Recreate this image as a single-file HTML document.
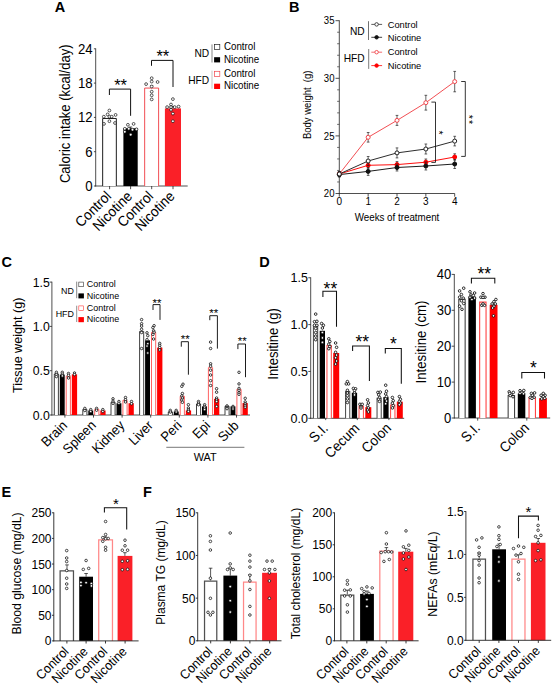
<!DOCTYPE html>
<html><head><meta charset="utf-8"><title>Figure</title>
<style>html,body{margin:0;padding:0;background:#fff}svg{display:block}text{font-family:"Liberation Sans",sans-serif}</style>
</head><body>
<svg width="554" height="685" viewBox="0 0 554 685">
<rect width="554" height="685" fill="#fff"/>
<text transform="translate(54.7 12)" font-size="14.5" font-weight="bold">A</text>
<text transform="translate(289 12)" font-size="14.5" font-weight="bold">B</text>
<text transform="translate(1.6 266.9)" font-size="14.5" font-weight="bold">C</text>
<text transform="translate(259.2 266.9)" font-size="14.5" font-weight="bold">D</text>
<text transform="translate(1.6 496.8)" font-size="14.5" font-weight="bold">E</text>
<text transform="translate(143 496.8)" font-size="14.5" font-weight="bold">F</text>
<g id="pA">
<line x1="95.7" y1="48.4" x2="95.7" y2="186.4" stroke="#222" stroke-width="0.8"/>
<line x1="93.9" y1="186" x2="95.7" y2="186" stroke="#222" stroke-width="0.8"/>
<text transform="translate(92.7 191.01) scale(1 1.06)" font-size="13.2" text-anchor="end">0</text>
<line x1="93.9" y1="151.7" x2="95.7" y2="151.7" stroke="#222" stroke-width="0.8"/>
<text transform="translate(92.7 156.71) scale(1 1.06)" font-size="13.2" text-anchor="end">6</text>
<line x1="93.9" y1="117.4" x2="95.7" y2="117.4" stroke="#222" stroke-width="0.8"/>
<text transform="translate(92.7 122.41) scale(1 1.06)" font-size="13.2" text-anchor="end">12</text>
<line x1="93.9" y1="83.1" x2="95.7" y2="83.1" stroke="#222" stroke-width="0.8"/>
<text transform="translate(92.7 88.11) scale(1 1.06)" font-size="13.2" text-anchor="end">18</text>
<line x1="93.9" y1="48.8" x2="95.7" y2="48.8" stroke="#222" stroke-width="0.8"/>
<text transform="translate(92.7 53.81) scale(1 1.06)" font-size="13.2" text-anchor="end">24</text>
<line x1="95.3" y1="186" x2="187.7" y2="186" stroke="#222" stroke-width="0.8"/>
<line x1="109.6" y1="186" x2="109.6" y2="189.2" stroke="#222" stroke-width="0.8"/>
<line x1="130.6" y1="186" x2="130.6" y2="189.2" stroke="#222" stroke-width="0.8"/>
<line x1="151.7" y1="186" x2="151.7" y2="189.2" stroke="#222" stroke-width="0.8"/>
<line x1="173" y1="186" x2="173" y2="189.2" stroke="#222" stroke-width="0.8"/>
<text transform="translate(70.3 113.8) rotate(-90) scale(1 1.06)" font-size="13" text-anchor="middle">Caloric intake (kcal/day)</text>
<path d="M102.67 186V118.47H116.33V186" fill="#fff" stroke="#111" stroke-width="0.95"/>
<rect x="123.4" y="128.3" width="14.3" height="57.7" fill="#000"/>
<path d="M144.67 186V88.07H158.62V186" fill="#fff" stroke="#f0444a" stroke-width="0.95"/>
<rect x="164.9" y="108.4" width="16.1" height="77.6" fill="#fa2028"/>
<line x1="109.5" y1="118" x2="109.5" y2="116.4" stroke="#111" stroke-width="0.7"/>
<line x1="108" y1="116.4" x2="111" y2="116.4" stroke="#111" stroke-width="0.7"/>
<line x1="130.6" y1="128.3" x2="130.6" y2="127" stroke="#111" stroke-width="0.7"/>
<line x1="129.1" y1="127" x2="132.1" y2="127" stroke="#111" stroke-width="0.7"/>
<line x1="151.7" y1="87.6" x2="151.7" y2="85.6" stroke="#111" stroke-width="0.7"/>
<line x1="150.2" y1="85.6" x2="153.2" y2="85.6" stroke="#111" stroke-width="0.7"/>
<line x1="173" y1="108.4" x2="173" y2="106.4" stroke="#111" stroke-width="0.7"/>
<line x1="171.5" y1="106.4" x2="174.5" y2="106.4" stroke="#111" stroke-width="0.7"/>
<circle cx="109.4" cy="110.5" r="1.4" fill="#fff" stroke="#000" stroke-width="0.65"/>
<circle cx="107.6" cy="114.4" r="1.4" fill="#fff" stroke="#000" stroke-width="0.65"/>
<circle cx="115.6" cy="114.9" r="1.4" fill="#fff" stroke="#000" stroke-width="0.65"/>
<circle cx="103.8" cy="116.7" r="1.4" fill="#fff" stroke="#000" stroke-width="0.65"/>
<circle cx="109.4" cy="116.7" r="1.4" fill="#fff" stroke="#000" stroke-width="0.65"/>
<circle cx="111.7" cy="116.7" r="1.4" fill="#fff" stroke="#000" stroke-width="0.65"/>
<circle cx="109.4" cy="121.2" r="1.4" fill="#fff" stroke="#000" stroke-width="0.65"/>
<circle cx="104" cy="123.9" r="1.4" fill="#fff" stroke="#000" stroke-width="0.65"/>
<circle cx="115" cy="123" r="1.4" fill="#fff" stroke="#000" stroke-width="0.65"/>
<circle cx="127.9" cy="124.8" r="1.4" fill="#fff" stroke="#000" stroke-width="0.65"/>
<circle cx="133.6" cy="123.9" r="1.4" fill="#fff" stroke="#000" stroke-width="0.65"/>
<circle cx="124.8" cy="128.8" r="1.4" fill="#fff" stroke="#000" stroke-width="0.65"/>
<circle cx="128.8" cy="128.8" r="1.4" fill="#fff" stroke="#000" stroke-width="0.65"/>
<circle cx="132.5" cy="129.7" r="1.4" fill="#fff" stroke="#000" stroke-width="0.65"/>
<circle cx="136.5" cy="129.3" r="1.4" fill="#fff" stroke="#000" stroke-width="0.65"/>
<circle cx="124.8" cy="131.8" r="1.4" fill="#fff" stroke="#000" stroke-width="0.65"/>
<circle cx="130.7" cy="134.7" r="1.4" fill="#fff" stroke="#000" stroke-width="0.65"/>
<circle cx="146.1" cy="84.1" r="1.4" fill="#fff" stroke="#000" stroke-width="0.65"/>
<circle cx="151.7" cy="81.6" r="1.4" fill="#fff" stroke="#000" stroke-width="0.65"/>
<circle cx="157.6" cy="82" r="1.4" fill="#fff" stroke="#000" stroke-width="0.65"/>
<circle cx="151.7" cy="86.5" r="1.4" fill="#fff" stroke="#000" stroke-width="0.65"/>
<circle cx="151.7" cy="91.7" r="1.4" fill="#fff" stroke="#000" stroke-width="0.65"/>
<circle cx="151.7" cy="95.3" r="1.4" fill="#fff" stroke="#000" stroke-width="0.65"/>
<circle cx="151.7" cy="99.4" r="1.4" fill="#fff" stroke="#000" stroke-width="0.65"/>
<circle cx="151.7" cy="78.2" r="1.4" fill="#fff" stroke="#000" stroke-width="0.65"/>
<circle cx="172.9" cy="99.1" r="1.4" fill="#fff" stroke="#000" stroke-width="0.65"/>
<circle cx="171" cy="104.5" r="1.4" fill="#fff" stroke="#000" stroke-width="0.65"/>
<circle cx="167.1" cy="107.1" r="1.4" fill="#fff" stroke="#000" stroke-width="0.65"/>
<circle cx="171" cy="107.1" r="1.4" fill="#fff" stroke="#000" stroke-width="0.65"/>
<circle cx="174.7" cy="107.1" r="1.4" fill="#fff" stroke="#000" stroke-width="0.65"/>
<circle cx="178.6" cy="106.6" r="1.4" fill="#fff" stroke="#000" stroke-width="0.65"/>
<circle cx="171" cy="109.8" r="1.4" fill="#fff" stroke="#000" stroke-width="0.65"/>
<circle cx="172.9" cy="113.6" r="1.4" fill="#fff" stroke="#000" stroke-width="0.65"/>
<circle cx="172.9" cy="121.2" r="1.4" fill="#fff" stroke="#000" stroke-width="0.65"/>
<path d="M109.4 95V89.1H130.6V115.8" stroke="#111" stroke-width="1.0" fill="none"/>
<text transform="translate(120.6 91.17)" font-size="16.5" text-anchor="middle">**</text>
<path d="M151.5 65.8V60.4H173V87" stroke="#111" stroke-width="1.0" fill="none"/>
<text transform="translate(162.8 61.87)" font-size="16.5" text-anchor="middle">**</text>
<text transform="translate(112.1 197.1) rotate(-45) scale(1 1.06)" font-size="13.6" text-anchor="end">Control</text>
<text transform="translate(133.1 197.1) rotate(-45) scale(1 1.06)" font-size="13.6" text-anchor="end">Nicotine</text>
<text transform="translate(154.2 197.1) rotate(-45) scale(1 1.06)" font-size="13.6" text-anchor="end">Control</text>
<text transform="translate(175.5 197.1) rotate(-45) scale(1 1.06)" font-size="13.6" text-anchor="end">Nicotine</text>
<text transform="translate(209.1 57.4) scale(1 1.06)" font-size="10.2" text-anchor="end">ND</text>
<text transform="translate(209.1 84) scale(1 1.06)" font-size="10.2" text-anchor="end">HFD</text>
<line x1="212" y1="44.4" x2="212" y2="62.5" stroke="#555" stroke-width="0.7"/>
<line x1="212" y1="70.6" x2="212" y2="88.7" stroke="#aaa" stroke-width="0.7"/>
<rect x="214.6" y="44.6" width="5.2" height="4.9" fill="#fff" stroke="#222" stroke-width="0.7"/>
<rect x="214.1" y="57.2" width="6" height="5.2" fill="#000"/>
<rect x="214.6" y="71.3" width="5.2" height="5.2" fill="#fff" stroke="#f0444a" stroke-width="0.7"/>
<rect x="214.1" y="83.7" width="6" height="5.3" fill="#f00"/>
<text transform="translate(223.9 49.9) scale(1 1.06)" font-size="9.8">Control</text>
<text transform="translate(223.9 62.5) scale(1 1.06)" font-size="9.8">Nicotine</text>
<text transform="translate(223.9 76.6) scale(1 1.06)" font-size="9.8">Control</text>
<text transform="translate(223.9 89.2) scale(1 1.06)" font-size="9.8">Nicotine</text>
</g>
<g id="pB">
<line x1="339.3" y1="20.3" x2="339.3" y2="193.9" stroke="#222" stroke-width="0.8"/>
<line x1="335.5" y1="193.5" x2="339.3" y2="193.5" stroke="#222" stroke-width="0.8"/>
<text transform="translate(334.5 197.14) scale(1 1.06)" font-size="9.6" text-anchor="end">20</text>
<line x1="335.5" y1="135.9" x2="339.3" y2="135.9" stroke="#222" stroke-width="0.8"/>
<text transform="translate(334.5 139.54) scale(1 1.06)" font-size="9.6" text-anchor="end">25</text>
<line x1="335.5" y1="78.3" x2="339.3" y2="78.3" stroke="#222" stroke-width="0.8"/>
<text transform="translate(334.5 81.94) scale(1 1.06)" font-size="9.6" text-anchor="end">30</text>
<line x1="335.5" y1="20.7" x2="339.3" y2="20.7" stroke="#222" stroke-width="0.8"/>
<text transform="translate(334.5 24.34) scale(1 1.06)" font-size="9.6" text-anchor="end">35</text>
<line x1="337.1" y1="181.98" x2="339.3" y2="181.98" stroke="#222" stroke-width="0.6400000000000001"/>
<line x1="337.1" y1="170.46" x2="339.3" y2="170.46" stroke="#222" stroke-width="0.6400000000000001"/>
<line x1="337.1" y1="158.94" x2="339.3" y2="158.94" stroke="#222" stroke-width="0.6400000000000001"/>
<line x1="337.1" y1="147.42" x2="339.3" y2="147.42" stroke="#222" stroke-width="0.6400000000000001"/>
<line x1="337.1" y1="124.38" x2="339.3" y2="124.38" stroke="#222" stroke-width="0.6400000000000001"/>
<line x1="337.1" y1="112.86" x2="339.3" y2="112.86" stroke="#222" stroke-width="0.6400000000000001"/>
<line x1="337.1" y1="101.34" x2="339.3" y2="101.34" stroke="#222" stroke-width="0.6400000000000001"/>
<line x1="337.1" y1="89.82" x2="339.3" y2="89.82" stroke="#222" stroke-width="0.6400000000000001"/>
<line x1="337.1" y1="66.78" x2="339.3" y2="66.78" stroke="#222" stroke-width="0.6400000000000001"/>
<line x1="337.1" y1="55.26" x2="339.3" y2="55.26" stroke="#222" stroke-width="0.6400000000000001"/>
<line x1="337.1" y1="43.74" x2="339.3" y2="43.74" stroke="#222" stroke-width="0.6400000000000001"/>
<line x1="337.1" y1="32.22" x2="339.3" y2="32.22" stroke="#222" stroke-width="0.6400000000000001"/>
<line x1="338.9" y1="193.5" x2="454.7" y2="193.5" stroke="#222" stroke-width="0.8"/>
<line x1="339.3" y1="193.5" x2="339.3" y2="196.7" stroke="#222" stroke-width="0.8"/>
<line x1="368.15" y1="193.5" x2="368.15" y2="196.7" stroke="#222" stroke-width="0.8"/>
<line x1="397" y1="193.5" x2="397" y2="196.7" stroke="#222" stroke-width="0.8"/>
<line x1="425.85" y1="193.5" x2="425.85" y2="196.7" stroke="#222" stroke-width="0.8"/>
<line x1="454.7" y1="193.5" x2="454.7" y2="196.7" stroke="#222" stroke-width="0.8"/>
<text transform="translate(339.3 204.9) scale(1 1.06)" font-size="10" text-anchor="middle">0</text>
<text transform="translate(368.15 204.9) scale(1 1.06)" font-size="10" text-anchor="middle">1</text>
<text transform="translate(397 204.9) scale(1 1.06)" font-size="10" text-anchor="middle">2</text>
<text transform="translate(425.85 204.9) scale(1 1.06)" font-size="10" text-anchor="middle">3</text>
<text transform="translate(454.7 204.9) scale(1 1.06)" font-size="10" text-anchor="middle">4</text>
<text transform="translate(397 220.8) scale(1 1.06)" font-size="9.8" text-anchor="middle">Weeks of treatment</text>
<text transform="translate(311.3 104.8) rotate(-90) scale(1 1.06)" font-size="9.5" text-anchor="middle">Body weight&#160;&#160;(g)</text>
<polyline points="339.3,174 368.15,137.3 397,120.4 425.85,102.7 454.7,81.6" fill="none" stroke="#f0444a" stroke-width="0.95"/>
<polyline points="339.3,174 368.15,165.3 397,164.6 425.85,162.2 454.7,157" fill="none" stroke="#f00" stroke-width="0.95"/>
<polyline points="339.3,174.6 368.15,171.4 397,167.5 425.85,166 454.7,164" fill="none" stroke="#111" stroke-width="0.95"/>
<polyline points="339.3,174 368.15,161 397,152.9 425.85,149 454.7,141.1" fill="none" stroke="#222" stroke-width="0.95"/>
<line x1="339.3" y1="171.5" x2="339.3" y2="176.5" stroke="#222" stroke-width="0.7"/>
<line x1="337.95" y1="171.5" x2="340.65" y2="171.5" stroke="#222" stroke-width="0.7"/>
<line x1="337.95" y1="176.5" x2="340.65" y2="176.5" stroke="#222" stroke-width="0.7"/>
<line x1="368.15" y1="132.5" x2="368.15" y2="142.1" stroke="#222" stroke-width="0.7"/>
<line x1="366.8" y1="132.5" x2="369.5" y2="132.5" stroke="#222" stroke-width="0.7"/>
<line x1="366.8" y1="142.1" x2="369.5" y2="142.1" stroke="#222" stroke-width="0.7"/>
<line x1="397" y1="115.4" x2="397" y2="125.4" stroke="#222" stroke-width="0.7"/>
<line x1="395.65" y1="115.4" x2="398.35" y2="115.4" stroke="#222" stroke-width="0.7"/>
<line x1="395.65" y1="125.4" x2="398.35" y2="125.4" stroke="#222" stroke-width="0.7"/>
<line x1="425.85" y1="95.3" x2="425.85" y2="110.1" stroke="#222" stroke-width="0.7"/>
<line x1="424.5" y1="95.3" x2="427.2" y2="95.3" stroke="#222" stroke-width="0.7"/>
<line x1="424.5" y1="110.1" x2="427.2" y2="110.1" stroke="#222" stroke-width="0.7"/>
<line x1="454.7" y1="71.4" x2="454.7" y2="91.8" stroke="#222" stroke-width="0.7"/>
<line x1="453.35" y1="71.4" x2="456.05" y2="71.4" stroke="#222" stroke-width="0.7"/>
<line x1="453.35" y1="91.8" x2="456.05" y2="91.8" stroke="#222" stroke-width="0.7"/>
<circle cx="339.3" cy="174" r="2" fill="#fff" stroke="#f0444a" stroke-width="1"/>
<circle cx="368.15" cy="137.3" r="2" fill="#fff" stroke="#f0444a" stroke-width="1"/>
<circle cx="397" cy="120.4" r="2" fill="#fff" stroke="#f0444a" stroke-width="1"/>
<circle cx="425.85" cy="102.7" r="2" fill="#fff" stroke="#f0444a" stroke-width="1"/>
<circle cx="454.7" cy="81.6" r="2" fill="#fff" stroke="#f0444a" stroke-width="1"/>
<line x1="339.3" y1="171.5" x2="339.3" y2="176.5" stroke="#222" stroke-width="0.7"/>
<line x1="337.95" y1="171.5" x2="340.65" y2="171.5" stroke="#222" stroke-width="0.7"/>
<line x1="337.95" y1="176.5" x2="340.65" y2="176.5" stroke="#222" stroke-width="0.7"/>
<line x1="368.15" y1="162.3" x2="368.15" y2="168.3" stroke="#222" stroke-width="0.7"/>
<line x1="366.8" y1="162.3" x2="369.5" y2="162.3" stroke="#222" stroke-width="0.7"/>
<line x1="366.8" y1="168.3" x2="369.5" y2="168.3" stroke="#222" stroke-width="0.7"/>
<line x1="397" y1="161.6" x2="397" y2="167.6" stroke="#222" stroke-width="0.7"/>
<line x1="395.65" y1="161.6" x2="398.35" y2="161.6" stroke="#222" stroke-width="0.7"/>
<line x1="395.65" y1="167.6" x2="398.35" y2="167.6" stroke="#222" stroke-width="0.7"/>
<line x1="425.85" y1="159" x2="425.85" y2="165.4" stroke="#222" stroke-width="0.7"/>
<line x1="424.5" y1="159" x2="427.2" y2="159" stroke="#222" stroke-width="0.7"/>
<line x1="424.5" y1="165.4" x2="427.2" y2="165.4" stroke="#222" stroke-width="0.7"/>
<line x1="454.7" y1="153.8" x2="454.7" y2="160.2" stroke="#222" stroke-width="0.7"/>
<line x1="453.35" y1="153.8" x2="456.05" y2="153.8" stroke="#222" stroke-width="0.7"/>
<line x1="453.35" y1="160.2" x2="456.05" y2="160.2" stroke="#222" stroke-width="0.7"/>
<circle cx="339.3" cy="174" r="2" fill="#f00" stroke="#f00" stroke-width="1"/>
<circle cx="368.15" cy="165.3" r="2" fill="#f00" stroke="#f00" stroke-width="1"/>
<circle cx="397" cy="164.6" r="2" fill="#f00" stroke="#f00" stroke-width="1"/>
<circle cx="425.85" cy="162.2" r="2" fill="#f00" stroke="#f00" stroke-width="1"/>
<circle cx="454.7" cy="157" r="2" fill="#f00" stroke="#f00" stroke-width="1"/>
<line x1="339.3" y1="172.1" x2="339.3" y2="177.1" stroke="#222" stroke-width="0.7"/>
<line x1="337.95" y1="172.1" x2="340.65" y2="172.1" stroke="#222" stroke-width="0.7"/>
<line x1="337.95" y1="177.1" x2="340.65" y2="177.1" stroke="#222" stroke-width="0.7"/>
<line x1="368.15" y1="167.4" x2="368.15" y2="175.4" stroke="#222" stroke-width="0.7"/>
<line x1="366.8" y1="167.4" x2="369.5" y2="167.4" stroke="#222" stroke-width="0.7"/>
<line x1="366.8" y1="175.4" x2="369.5" y2="175.4" stroke="#222" stroke-width="0.7"/>
<line x1="397" y1="164" x2="397" y2="171" stroke="#222" stroke-width="0.7"/>
<line x1="395.65" y1="164" x2="398.35" y2="164" stroke="#222" stroke-width="0.7"/>
<line x1="395.65" y1="171" x2="398.35" y2="171" stroke="#222" stroke-width="0.7"/>
<line x1="425.85" y1="162" x2="425.85" y2="170" stroke="#222" stroke-width="0.7"/>
<line x1="424.5" y1="162" x2="427.2" y2="162" stroke="#222" stroke-width="0.7"/>
<line x1="424.5" y1="170" x2="427.2" y2="170" stroke="#222" stroke-width="0.7"/>
<line x1="454.7" y1="159.5" x2="454.7" y2="168.5" stroke="#222" stroke-width="0.7"/>
<line x1="453.35" y1="159.5" x2="456.05" y2="159.5" stroke="#222" stroke-width="0.7"/>
<line x1="453.35" y1="168.5" x2="456.05" y2="168.5" stroke="#222" stroke-width="0.7"/>
<circle cx="339.3" cy="174.6" r="2" fill="#111" stroke="#111" stroke-width="1"/>
<circle cx="368.15" cy="171.4" r="2" fill="#111" stroke="#111" stroke-width="1"/>
<circle cx="397" cy="167.5" r="2" fill="#111" stroke="#111" stroke-width="1"/>
<circle cx="425.85" cy="166" r="2" fill="#111" stroke="#111" stroke-width="1"/>
<circle cx="454.7" cy="164" r="2" fill="#111" stroke="#111" stroke-width="1"/>
<line x1="339.3" y1="171.5" x2="339.3" y2="176.5" stroke="#222" stroke-width="0.7"/>
<line x1="337.95" y1="171.5" x2="340.65" y2="171.5" stroke="#222" stroke-width="0.7"/>
<line x1="337.95" y1="176.5" x2="340.65" y2="176.5" stroke="#222" stroke-width="0.7"/>
<line x1="368.15" y1="156.5" x2="368.15" y2="165.5" stroke="#222" stroke-width="0.7"/>
<line x1="366.8" y1="156.5" x2="369.5" y2="156.5" stroke="#222" stroke-width="0.7"/>
<line x1="366.8" y1="165.5" x2="369.5" y2="165.5" stroke="#222" stroke-width="0.7"/>
<line x1="397" y1="147.9" x2="397" y2="157.9" stroke="#222" stroke-width="0.7"/>
<line x1="395.65" y1="147.9" x2="398.35" y2="147.9" stroke="#222" stroke-width="0.7"/>
<line x1="395.65" y1="157.9" x2="398.35" y2="157.9" stroke="#222" stroke-width="0.7"/>
<line x1="425.85" y1="144" x2="425.85" y2="154" stroke="#222" stroke-width="0.7"/>
<line x1="424.5" y1="144" x2="427.2" y2="144" stroke="#222" stroke-width="0.7"/>
<line x1="424.5" y1="154" x2="427.2" y2="154" stroke="#222" stroke-width="0.7"/>
<line x1="454.7" y1="136.3" x2="454.7" y2="145.9" stroke="#222" stroke-width="0.7"/>
<line x1="453.35" y1="136.3" x2="456.05" y2="136.3" stroke="#222" stroke-width="0.7"/>
<line x1="453.35" y1="145.9" x2="456.05" y2="145.9" stroke="#222" stroke-width="0.7"/>
<circle cx="339.3" cy="174" r="2" fill="#fff" stroke="#222" stroke-width="1"/>
<circle cx="368.15" cy="161" r="2" fill="#fff" stroke="#222" stroke-width="1"/>
<circle cx="397" cy="152.9" r="2" fill="#fff" stroke="#222" stroke-width="1"/>
<circle cx="425.85" cy="149" r="2" fill="#fff" stroke="#222" stroke-width="1"/>
<circle cx="454.7" cy="141.1" r="2" fill="#fff" stroke="#222" stroke-width="1"/>
<path d="M431.4 102.1H435.5V162.4H431.4" stroke="#111" stroke-width="0.85" fill="none"/>
<path d="M461.2 81.5H465.3V156.4H461.2" stroke="#111" stroke-width="0.85" fill="none"/>
<text transform="translate(440.3 132.5) rotate(90) scale(1 1.06)" font-size="10.5" text-anchor="middle" dy="5.4">*</text>
<text transform="translate(470.7 120.1) rotate(90) scale(1 1.06)" font-size="10.5" text-anchor="middle" dy="5.4" letter-spacing="1.3">**</text>
<text transform="translate(364.6 34.9) scale(1 1.06)" font-size="10.2" text-anchor="end">ND</text>
<text transform="translate(364.6 62.2) scale(1 1.06)" font-size="10.2" text-anchor="end">HFD</text>
<line x1="368.5" y1="21.2" x2="368.5" y2="40" stroke="#333" stroke-width="0.7"/>
<line x1="368.7" y1="49" x2="368.7" y2="68.9" stroke="#444" stroke-width="0.7"/>
<line x1="371.3" y1="24.4" x2="382.1" y2="24.4" stroke="#333" stroke-width="0.8"/>
<circle cx="376.6" cy="24.4" r="1.75" fill="#fff" stroke="#333" stroke-width="0.9"/>
<line x1="371.3" y1="37.3" x2="382.1" y2="37.3" stroke="#111" stroke-width="0.8"/>
<circle cx="376.6" cy="37.3" r="1.75" fill="#111" stroke="#111" stroke-width="0.9"/>
<line x1="371.3" y1="52.2" x2="382.1" y2="52.2" stroke="#f0444a" stroke-width="0.8"/>
<circle cx="376.6" cy="52.2" r="1.75" fill="#fff" stroke="#f0444a" stroke-width="0.9"/>
<line x1="371.3" y1="65.6" x2="382.1" y2="65.6" stroke="#f00" stroke-width="0.8"/>
<circle cx="376.6" cy="65.6" r="1.75" fill="#f00" stroke="#f00" stroke-width="0.9"/>
<text transform="translate(387.7 27.5) scale(1 1.06)" font-size="9.3">Control</text>
<text transform="translate(387.7 40.8) scale(1 1.06)" font-size="9.3">Nicotine</text>
<text transform="translate(387.7 55.2) scale(1 1.06)" font-size="9.3">Control</text>
<text transform="translate(387.7 68.6) scale(1 1.06)" font-size="9.3">Nicotine</text>
</g>
<g id="pC">
<line x1="51.9" y1="281.7" x2="51.9" y2="415.4" stroke="#222" stroke-width="0.8"/>
<line x1="49.7" y1="415" x2="51.9" y2="415" stroke="#222" stroke-width="0.8"/>
<text transform="translate(49.8 419.67) scale(1 1.06)" font-size="12.3" text-anchor="end">0.0</text>
<line x1="49.7" y1="370.7" x2="51.9" y2="370.7" stroke="#222" stroke-width="0.8"/>
<text transform="translate(49.8 375.37) scale(1 1.06)" font-size="12.3" text-anchor="end">0.5</text>
<line x1="49.7" y1="326.4" x2="51.9" y2="326.4" stroke="#222" stroke-width="0.8"/>
<text transform="translate(49.8 331.07) scale(1 1.06)" font-size="12.3" text-anchor="end">1.0</text>
<line x1="49.7" y1="282.1" x2="51.9" y2="282.1" stroke="#222" stroke-width="0.8"/>
<text transform="translate(49.8 286.77) scale(1 1.06)" font-size="12.3" text-anchor="end">1.5</text>
<line x1="51.5" y1="415" x2="250" y2="415" stroke="#222" stroke-width="0.8"/>
<line x1="64.9" y1="415" x2="64.9" y2="417.6" stroke="#222" stroke-width="0.8"/>
<line x1="93.5" y1="415" x2="93.5" y2="417.6" stroke="#222" stroke-width="0.8"/>
<line x1="122.1" y1="415" x2="122.1" y2="417.6" stroke="#222" stroke-width="0.8"/>
<line x1="150.7" y1="415" x2="150.7" y2="417.6" stroke="#222" stroke-width="0.8"/>
<line x1="179.3" y1="415" x2="179.3" y2="417.6" stroke="#222" stroke-width="0.8"/>
<line x1="207.9" y1="415" x2="207.9" y2="417.6" stroke="#222" stroke-width="0.8"/>
<line x1="236.5" y1="415" x2="236.5" y2="417.6" stroke="#222" stroke-width="0.8"/>
<text transform="translate(21.8 345.3) rotate(-90) scale(1 1.06)" font-size="12.6" text-anchor="middle">Tissue weight (g)</text>
<path d="M54.3 415V373.9H58.4V415" fill="#fff" stroke="#111" stroke-width="0.8"/>
<rect x="59.8" y="374.6" width="4.9" height="40.4" fill="#000"/>
<path d="M66.2 415V376.3H70.4V415" fill="#fff" stroke="#ff3a3a" stroke-width="0.8"/>
<rect x="71.8" y="374.4" width="5.3" height="40.6" fill="#f00"/>
<path d="M82.8 415V409.4H86.9V415" fill="#fff" stroke="#111" stroke-width="0.8"/>
<rect x="88.3" y="410.5" width="4.9" height="4.5" fill="#000"/>
<path d="M94.7 415V409.4H98.9V415" fill="#fff" stroke="#ff3a3a" stroke-width="0.8"/>
<rect x="100.3" y="410.5" width="5.3" height="4.5" fill="#f00"/>
<path d="M111 415V402.3H115.1V415" fill="#fff" stroke="#111" stroke-width="0.8"/>
<rect x="116.5" y="403.3" width="4.9" height="11.7" fill="#000"/>
<path d="M122.9 415V400.4H127.1V415" fill="#fff" stroke="#ff3a3a" stroke-width="0.8"/>
<rect x="128.5" y="403.3" width="5.3" height="11.7" fill="#f00"/>
<path d="M139.6 415V331.4H143.7V415" fill="#fff" stroke="#111" stroke-width="0.8"/>
<rect x="145.1" y="340.3" width="4.9" height="74.7" fill="#000"/>
<path d="M151.5 415V332.4H155.7V415" fill="#fff" stroke="#ff3a3a" stroke-width="0.8"/>
<rect x="157.1" y="347.6" width="5.3" height="67.4" fill="#f00"/>
<path d="M168.3 415V411.9H172.4V415" fill="#fff" stroke="#111" stroke-width="0.8"/>
<rect x="173.8" y="411.5" width="4.9" height="3.5" fill="#000"/>
<path d="M180.2 415V396.3H184.4V415" fill="#fff" stroke="#ff3a3a" stroke-width="0.8"/>
<rect x="185.8" y="410.4" width="5.3" height="4.6" fill="#f00"/>
<path d="M196.5 415V404H200.6V415" fill="#fff" stroke="#111" stroke-width="0.8"/>
<rect x="202" y="406.4" width="4.9" height="8.6" fill="#000"/>
<path d="M208.4 415V367.7H212.6V415" fill="#fff" stroke="#ff3a3a" stroke-width="0.8"/>
<rect x="214" y="398.8" width="5.3" height="16.2" fill="#f00"/>
<path d="M225 415V406.3H229.1V415" fill="#fff" stroke="#111" stroke-width="0.8"/>
<rect x="230.5" y="406.4" width="4.9" height="8.6" fill="#000"/>
<path d="M236.9 415V389.4H241.1V415" fill="#fff" stroke="#ff3a3a" stroke-width="0.8"/>
<rect x="242.5" y="403.1" width="5.3" height="11.9" fill="#f00"/>
<circle cx="56.4" cy="372.3" r="1.25" fill="#fff" stroke="#000" stroke-width="0.75"/>
<circle cx="56.4" cy="374.4" r="1.25" fill="#fff" stroke="#000" stroke-width="0.75"/>
<circle cx="56.4" cy="376.6" r="1.25" fill="#fff" stroke="#000" stroke-width="0.75"/>
<circle cx="62.3" cy="372.3" r="1.25" fill="#fff" stroke="#000" stroke-width="0.75"/>
<circle cx="62.3" cy="374.1" r="1.25" fill="#fff" stroke="#000" stroke-width="0.75"/>
<circle cx="62.3" cy="375.9" r="1.25" fill="#fff" stroke="#000" stroke-width="0.75"/>
<circle cx="68.5" cy="373.5" r="1.25" fill="#fff" stroke="#000" stroke-width="0.75"/>
<circle cx="68.5" cy="375.3" r="1.25" fill="#fff" stroke="#000" stroke-width="0.75"/>
<circle cx="68.5" cy="378" r="1.25" fill="#fff" stroke="#000" stroke-width="0.75"/>
<circle cx="74.5" cy="373" r="1.25" fill="#fff" stroke="#000" stroke-width="0.75"/>
<circle cx="74.5" cy="374.6" r="1.25" fill="#fff" stroke="#000" stroke-width="0.75"/>
<circle cx="84.8" cy="408.4" r="1.25" fill="#fff" stroke="#000" stroke-width="0.75"/>
<circle cx="84.8" cy="410.5" r="1.25" fill="#fff" stroke="#000" stroke-width="0.75"/>
<circle cx="90.7" cy="409.6" r="1.25" fill="#fff" stroke="#000" stroke-width="0.75"/>
<circle cx="90.7" cy="411.4" r="1.25" fill="#fff" stroke="#000" stroke-width="0.75"/>
<circle cx="96.6" cy="408.4" r="1.25" fill="#fff" stroke="#000" stroke-width="0.75"/>
<circle cx="96.6" cy="410.2" r="1.25" fill="#fff" stroke="#000" stroke-width="0.75"/>
<circle cx="102.8" cy="409.6" r="1.25" fill="#fff" stroke="#000" stroke-width="0.75"/>
<circle cx="102.8" cy="411.4" r="1.25" fill="#fff" stroke="#000" stroke-width="0.75"/>
<circle cx="113" cy="398.8" r="1.25" fill="#fff" stroke="#000" stroke-width="0.75"/>
<circle cx="113" cy="401.2" r="1.25" fill="#fff" stroke="#000" stroke-width="0.75"/>
<circle cx="113" cy="403.3" r="1.25" fill="#fff" stroke="#000" stroke-width="0.75"/>
<circle cx="118.9" cy="401.5" r="1.25" fill="#fff" stroke="#000" stroke-width="0.75"/>
<circle cx="118.9" cy="403.3" r="1.25" fill="#fff" stroke="#000" stroke-width="0.75"/>
<circle cx="125.5" cy="397.5" r="1.25" fill="#fff" stroke="#000" stroke-width="0.75"/>
<circle cx="125.5" cy="399.7" r="1.25" fill="#fff" stroke="#000" stroke-width="0.75"/>
<circle cx="125.5" cy="401.9" r="1.25" fill="#fff" stroke="#000" stroke-width="0.75"/>
<circle cx="131.5" cy="401.5" r="1.25" fill="#fff" stroke="#000" stroke-width="0.75"/>
<circle cx="131.5" cy="403.7" r="1.25" fill="#fff" stroke="#000" stroke-width="0.75"/>
<circle cx="141.6" cy="319.6" r="1.25" fill="#fff" stroke="#000" stroke-width="0.75"/>
<circle cx="141.6" cy="323.7" r="1.25" fill="#fff" stroke="#000" stroke-width="0.75"/>
<circle cx="141.6" cy="326.1" r="1.25" fill="#fff" stroke="#000" stroke-width="0.75"/>
<circle cx="141.6" cy="329.3" r="1.25" fill="#fff" stroke="#000" stroke-width="0.75"/>
<circle cx="141.6" cy="332.5" r="1.25" fill="#fff" stroke="#000" stroke-width="0.75"/>
<circle cx="141.6" cy="348.5" r="1.25" fill="#fff" stroke="#000" stroke-width="0.75"/>
<circle cx="147" cy="332.8" r="1.25" fill="#fff" stroke="#000" stroke-width="0.75"/>
<circle cx="147.8" cy="335.7" r="1.25" fill="#fff" stroke="#000" stroke-width="0.75"/>
<circle cx="147" cy="339.7" r="1.25" fill="#fff" stroke="#000" stroke-width="0.75"/>
<circle cx="147.8" cy="343.7" r="1.25" fill="#fff" stroke="#000" stroke-width="0.75"/>
<circle cx="147" cy="346.1" r="1.25" fill="#fff" stroke="#000" stroke-width="0.75"/>
<circle cx="147.8" cy="353" r="1.25" fill="#fff" stroke="#000" stroke-width="0.75"/>
<circle cx="154.1" cy="325.7" r="1.25" fill="#fff" stroke="#000" stroke-width="0.75"/>
<circle cx="152.9" cy="327.6" r="1.25" fill="#fff" stroke="#000" stroke-width="0.75"/>
<circle cx="153.6" cy="330.8" r="1.25" fill="#fff" stroke="#000" stroke-width="0.75"/>
<circle cx="154.1" cy="332.2" r="1.25" fill="#fff" stroke="#000" stroke-width="0.75"/>
<circle cx="152.9" cy="334.5" r="1.25" fill="#fff" stroke="#000" stroke-width="0.75"/>
<circle cx="153.6" cy="339" r="1.25" fill="#fff" stroke="#000" stroke-width="0.75"/>
<circle cx="159.7" cy="343.4" r="1.25" fill="#fff" stroke="#000" stroke-width="0.75"/>
<circle cx="159.7" cy="345.4" r="1.25" fill="#fff" stroke="#000" stroke-width="0.75"/>
<circle cx="159.7" cy="347.5" r="1.25" fill="#fff" stroke="#000" stroke-width="0.75"/>
<circle cx="159.7" cy="349.9" r="1.25" fill="#fff" stroke="#000" stroke-width="0.75"/>
<circle cx="170.3" cy="410.4" r="1.25" fill="#fff" stroke="#000" stroke-width="0.75"/>
<circle cx="170.3" cy="412" r="1.25" fill="#fff" stroke="#000" stroke-width="0.75"/>
<circle cx="176.2" cy="410.4" r="1.25" fill="#fff" stroke="#000" stroke-width="0.75"/>
<circle cx="176.2" cy="412" r="1.25" fill="#fff" stroke="#000" stroke-width="0.75"/>
<circle cx="183" cy="384.2" r="1.25" fill="#fff" stroke="#000" stroke-width="0.75"/>
<circle cx="181.8" cy="386.3" r="1.25" fill="#fff" stroke="#000" stroke-width="0.75"/>
<circle cx="182.4" cy="393.5" r="1.25" fill="#fff" stroke="#000" stroke-width="0.75"/>
<circle cx="181.8" cy="395.9" r="1.25" fill="#fff" stroke="#000" stroke-width="0.75"/>
<circle cx="182.4" cy="398" r="1.25" fill="#fff" stroke="#000" stroke-width="0.75"/>
<circle cx="181.8" cy="400" r="1.25" fill="#fff" stroke="#000" stroke-width="0.75"/>
<circle cx="182.4" cy="402.3" r="1.25" fill="#fff" stroke="#000" stroke-width="0.75"/>
<circle cx="188.4" cy="404.7" r="1.25" fill="#fff" stroke="#000" stroke-width="0.75"/>
<circle cx="188.4" cy="408" r="1.25" fill="#fff" stroke="#000" stroke-width="0.75"/>
<circle cx="188.4" cy="409.9" r="1.25" fill="#fff" stroke="#000" stroke-width="0.75"/>
<circle cx="188.4" cy="411.4" r="1.25" fill="#fff" stroke="#000" stroke-width="0.75"/>
<circle cx="198.5" cy="401.5" r="1.25" fill="#fff" stroke="#000" stroke-width="0.75"/>
<circle cx="198.5" cy="403.1" r="1.25" fill="#fff" stroke="#000" stroke-width="0.75"/>
<circle cx="198.5" cy="404.7" r="1.25" fill="#fff" stroke="#000" stroke-width="0.75"/>
<circle cx="204.6" cy="404.7" r="1.25" fill="#fff" stroke="#000" stroke-width="0.75"/>
<circle cx="204.6" cy="406.4" r="1.25" fill="#fff" stroke="#000" stroke-width="0.75"/>
<circle cx="204.6" cy="408" r="1.25" fill="#fff" stroke="#000" stroke-width="0.75"/>
<circle cx="204.6" cy="409.6" r="1.25" fill="#fff" stroke="#000" stroke-width="0.75"/>
<circle cx="210.6" cy="342.1" r="1.25" fill="#fff" stroke="#000" stroke-width="0.75"/>
<circle cx="210.6" cy="348.5" r="1.25" fill="#fff" stroke="#000" stroke-width="0.75"/>
<circle cx="210.6" cy="363.8" r="1.25" fill="#fff" stroke="#000" stroke-width="0.75"/>
<circle cx="210.6" cy="366.2" r="1.25" fill="#fff" stroke="#000" stroke-width="0.75"/>
<circle cx="210.6" cy="370.2" r="1.25" fill="#fff" stroke="#000" stroke-width="0.75"/>
<circle cx="210.6" cy="375" r="1.25" fill="#fff" stroke="#000" stroke-width="0.75"/>
<circle cx="210.6" cy="380.7" r="1.25" fill="#fff" stroke="#000" stroke-width="0.75"/>
<circle cx="210.6" cy="385.5" r="1.25" fill="#fff" stroke="#000" stroke-width="0.75"/>
<circle cx="216.6" cy="388.7" r="1.25" fill="#fff" stroke="#000" stroke-width="0.75"/>
<circle cx="216.6" cy="392.2" r="1.25" fill="#fff" stroke="#000" stroke-width="0.75"/>
<circle cx="216.6" cy="398" r="1.25" fill="#fff" stroke="#000" stroke-width="0.75"/>
<circle cx="216.6" cy="399.9" r="1.25" fill="#fff" stroke="#000" stroke-width="0.75"/>
<circle cx="216.6" cy="401.5" r="1.25" fill="#fff" stroke="#000" stroke-width="0.75"/>
<circle cx="216.6" cy="406.4" r="1.25" fill="#fff" stroke="#000" stroke-width="0.75"/>
<circle cx="227" cy="405.9" r="1.25" fill="#fff" stroke="#000" stroke-width="0.75"/>
<circle cx="227" cy="407.4" r="1.25" fill="#fff" stroke="#000" stroke-width="0.75"/>
<circle cx="227" cy="408.7" r="1.25" fill="#fff" stroke="#000" stroke-width="0.75"/>
<circle cx="233" cy="406.4" r="1.25" fill="#fff" stroke="#000" stroke-width="0.75"/>
<circle cx="233" cy="407.8" r="1.25" fill="#fff" stroke="#000" stroke-width="0.75"/>
<circle cx="233" cy="409" r="1.25" fill="#fff" stroke="#000" stroke-width="0.75"/>
<circle cx="239" cy="372.3" r="1.25" fill="#fff" stroke="#000" stroke-width="0.75"/>
<circle cx="239" cy="383.9" r="1.25" fill="#fff" stroke="#000" stroke-width="0.75"/>
<circle cx="239" cy="388.4" r="1.25" fill="#fff" stroke="#000" stroke-width="0.75"/>
<circle cx="239" cy="390.3" r="1.25" fill="#fff" stroke="#000" stroke-width="0.75"/>
<circle cx="239" cy="392.7" r="1.25" fill="#fff" stroke="#000" stroke-width="0.75"/>
<circle cx="239" cy="394.3" r="1.25" fill="#fff" stroke="#000" stroke-width="0.75"/>
<circle cx="245.2" cy="398.3" r="1.25" fill="#fff" stroke="#000" stroke-width="0.75"/>
<circle cx="245.2" cy="401.9" r="1.25" fill="#fff" stroke="#000" stroke-width="0.75"/>
<circle cx="245.2" cy="403.9" r="1.25" fill="#fff" stroke="#000" stroke-width="0.75"/>
<circle cx="245.2" cy="405.6" r="1.25" fill="#fff" stroke="#000" stroke-width="0.75"/>
<circle cx="245.2" cy="407.2" r="1.25" fill="#fff" stroke="#000" stroke-width="0.75"/>
<path d="M153 310V304.6H160V319.9" stroke="#111" stroke-width="0.95" fill="none"/>
<text transform="translate(157 306.59)" font-size="11.5" text-anchor="middle">**</text>
<path d="M181.3 346.7V341.7H188.4V374.7" stroke="#111" stroke-width="0.95" fill="none"/>
<text transform="translate(185.2 342.79)" font-size="11.5" text-anchor="middle">**</text>
<path d="M209.8 320.2V315.7H217.4V348.6" stroke="#111" stroke-width="0.95" fill="none"/>
<text transform="translate(213.8 316.99)" font-size="11.5" text-anchor="middle">**</text>
<path d="M237.9 349.1V344H245.5V377.2" stroke="#111" stroke-width="0.95" fill="none"/>
<text transform="translate(242.3 345.39)" font-size="11.5" text-anchor="middle">**</text>
<text transform="translate(68.1 426.3) rotate(-45) scale(1 1.06)" font-size="12.9" text-anchor="end">Brain</text>
<text transform="translate(96.7 426.3) rotate(-45) scale(1 1.06)" font-size="12.9" text-anchor="end">Spleen</text>
<text transform="translate(125.3 426.3) rotate(-45) scale(1 1.06)" font-size="12.9" text-anchor="end">Kidney</text>
<text transform="translate(153.9 426.3) rotate(-45) scale(1 1.06)" font-size="12.9" text-anchor="end">Liver</text>
<text transform="translate(182.5 426.3) rotate(-45) scale(1 1.06)" font-size="12.9" text-anchor="end">Peri</text>
<text transform="translate(211.1 426.3) rotate(-45) scale(1 1.06)" font-size="12.9" text-anchor="end">Epi</text>
<text transform="translate(239.7 426.3) rotate(-45) scale(1 1.06)" font-size="12.9" text-anchor="end">Sub</text>
<line x1="166.3" y1="447.3" x2="244.4" y2="447.3" stroke="#555" stroke-width="0.8"/>
<text transform="translate(205.2 461) scale(1 1.06)" font-size="10.9" text-anchor="middle">WAT</text>
<text transform="translate(73.9 293.7) scale(1 1.06)" font-size="8.9" text-anchor="end">ND</text>
<text transform="translate(73.9 316.9) scale(1 1.06)" font-size="8.9" text-anchor="end">HFD</text>
<line x1="76.7" y1="281.6" x2="76.7" y2="298.2" stroke="#444" stroke-width="0.65"/>
<line x1="76.7" y1="305.7" x2="76.7" y2="322" stroke="#555" stroke-width="0.65"/>
<rect x="78.8" y="282.1" width="4.7" height="4.6" fill="#fff" stroke="#333" stroke-width="0.6"/>
<rect x="78.4" y="293.4" width="5.5" height="5" fill="#000"/>
<rect x="78.8" y="305.9" width="4.7" height="4.7" fill="#fff" stroke="#ff3a3a" stroke-width="0.6"/>
<rect x="78.4" y="317.1" width="5.5" height="5.1" fill="#f00"/>
<text transform="translate(86.8 287.1) scale(1 1.06)" font-size="8.95">Control</text>
<text transform="translate(86.8 298.5) scale(1 1.06)" font-size="8.95">Nicotine</text>
<text transform="translate(86.8 311) scale(1 1.06)" font-size="8.95">Control</text>
<text transform="translate(86.8 322.4) scale(1 1.06)" font-size="8.95">Nicotine</text>
</g>
<g id="pD1">
<line x1="310.7" y1="277.35" x2="310.7" y2="418.7" stroke="#222" stroke-width="0.8"/>
<line x1="308.3" y1="418.3" x2="310.7" y2="418.3" stroke="#222" stroke-width="0.8"/>
<text transform="translate(307.9 423.04) scale(1 1.06)" font-size="12.5" text-anchor="end">0.0</text>
<line x1="308.3" y1="371.45" x2="310.7" y2="371.45" stroke="#222" stroke-width="0.8"/>
<text transform="translate(307.9 376.19) scale(1 1.06)" font-size="12.5" text-anchor="end">0.5</text>
<line x1="308.3" y1="324.6" x2="310.7" y2="324.6" stroke="#222" stroke-width="0.8"/>
<text transform="translate(307.9 329.34) scale(1 1.06)" font-size="12.5" text-anchor="end">1.0</text>
<line x1="308.3" y1="277.75" x2="310.7" y2="277.75" stroke="#222" stroke-width="0.8"/>
<text transform="translate(307.9 282.49) scale(1 1.06)" font-size="12.5" text-anchor="end">1.5</text>
<line x1="310.3" y1="418.3" x2="404.2" y2="418.3" stroke="#222" stroke-width="0.8"/>
<line x1="325.7" y1="418.3" x2="325.7" y2="420.1" stroke="#222" stroke-width="0.8"/>
<line x1="357.3" y1="418.3" x2="357.3" y2="420.1" stroke="#222" stroke-width="0.8"/>
<line x1="388.9" y1="418.3" x2="388.9" y2="420.1" stroke="#222" stroke-width="0.8"/>
<text transform="translate(278 344) rotate(-90) scale(1 1.06)" font-size="13" text-anchor="middle">Intesitine (g)</text>
<path d="M313.45 418.3V325.65H317.65V418.3" fill="#fff" stroke="#555" stroke-width="1.1"/>
<rect x="319.7" y="330.8" width="5.3" height="87.5" fill="#000"/>
<path d="M326.95 418.3V345.45H331.35V418.3" fill="#fff" stroke="#f55" stroke-width="1.1"/>
<rect x="333.2" y="353" width="6" height="65.3" fill="#f00"/>
<path d="M345.55 418.3V391.45H349.75V418.3" fill="#fff" stroke="#555" stroke-width="1.1"/>
<rect x="351.8" y="392.8" width="5.3" height="25.5" fill="#000"/>
<path d="M359.05 418.3V406.35H363.45V418.3" fill="#fff" stroke="#f55" stroke-width="1.1"/>
<rect x="365.3" y="407.2" width="6" height="11.1" fill="#f00"/>
<path d="M377.05 418.3V398.25H381.25V418.3" fill="#fff" stroke="#555" stroke-width="1.1"/>
<rect x="383.3" y="397.1" width="5.3" height="21.2" fill="#000"/>
<path d="M390.55 418.3V405.05H394.95V418.3" fill="#fff" stroke="#f55" stroke-width="1.1"/>
<rect x="396.8" y="401.7" width="6" height="16.6" fill="#f00"/>
<circle cx="315.7" cy="314.1" r="1.3" fill="#fff" stroke="#000" stroke-width="0.8"/>
<circle cx="314.5" cy="321.7" r="1.3" fill="#fff" stroke="#000" stroke-width="0.8"/>
<circle cx="316.9" cy="321.3" r="1.3" fill="#fff" stroke="#000" stroke-width="0.8"/>
<circle cx="314.5" cy="325.3" r="1.3" fill="#fff" stroke="#000" stroke-width="0.8"/>
<circle cx="316.9" cy="325.3" r="1.3" fill="#fff" stroke="#000" stroke-width="0.8"/>
<circle cx="315.7" cy="328.5" r="1.3" fill="#fff" stroke="#000" stroke-width="0.8"/>
<circle cx="315.7" cy="332.5" r="1.3" fill="#fff" stroke="#000" stroke-width="0.8"/>
<circle cx="315.7" cy="336.1" r="1.3" fill="#fff" stroke="#000" stroke-width="0.8"/>
<circle cx="315.7" cy="339.7" r="1.3" fill="#fff" stroke="#000" stroke-width="0.8"/>
<circle cx="321.6" cy="323.5" r="1.3" fill="#fff" stroke="#000" stroke-width="0.8"/>
<circle cx="323.4" cy="325.3" r="1.3" fill="#fff" stroke="#000" stroke-width="0.8"/>
<circle cx="322.4" cy="328" r="1.3" fill="#fff" stroke="#000" stroke-width="0.8"/>
<circle cx="322.4" cy="332.5" r="1.3" fill="#fff" stroke="#000" stroke-width="0.8"/>
<circle cx="322.4" cy="337.9" r="1.3" fill="#fff" stroke="#000" stroke-width="0.8"/>
<circle cx="322.4" cy="342.4" r="1.3" fill="#fff" stroke="#000" stroke-width="0.8"/>
<circle cx="328.8" cy="338.8" r="1.3" fill="#fff" stroke="#000" stroke-width="0.8"/>
<circle cx="329.8" cy="341.5" r="1.3" fill="#fff" stroke="#000" stroke-width="0.8"/>
<circle cx="328.8" cy="344.2" r="1.3" fill="#fff" stroke="#000" stroke-width="0.8"/>
<circle cx="329.8" cy="346.6" r="1.3" fill="#fff" stroke="#000" stroke-width="0.8"/>
<circle cx="328.8" cy="348.7" r="1.3" fill="#fff" stroke="#000" stroke-width="0.8"/>
<circle cx="335.6" cy="343" r="1.3" fill="#fff" stroke="#000" stroke-width="0.8"/>
<circle cx="336.6" cy="347.3" r="1.3" fill="#fff" stroke="#000" stroke-width="0.8"/>
<circle cx="335.6" cy="352.3" r="1.3" fill="#fff" stroke="#000" stroke-width="0.8"/>
<circle cx="336.6" cy="355.1" r="1.3" fill="#fff" stroke="#000" stroke-width="0.8"/>
<circle cx="335.6" cy="357.8" r="1.3" fill="#fff" stroke="#000" stroke-width="0.8"/>
<circle cx="336.6" cy="361" r="1.3" fill="#fff" stroke="#000" stroke-width="0.8"/>
<circle cx="335.6" cy="364.1" r="1.3" fill="#fff" stroke="#000" stroke-width="0.8"/>
<circle cx="346.3" cy="383.9" r="1.3" fill="#fff" stroke="#000" stroke-width="0.8"/>
<circle cx="348.6" cy="383.9" r="1.3" fill="#fff" stroke="#000" stroke-width="0.8"/>
<circle cx="347.4" cy="381.6" r="1.3" fill="#fff" stroke="#000" stroke-width="0.8"/>
<circle cx="347.4" cy="390.3" r="1.3" fill="#fff" stroke="#000" stroke-width="0.8"/>
<circle cx="347.4" cy="393" r="1.3" fill="#fff" stroke="#000" stroke-width="0.8"/>
<circle cx="347.4" cy="395.7" r="1.3" fill="#fff" stroke="#000" stroke-width="0.8"/>
<circle cx="347.4" cy="398.9" r="1.3" fill="#fff" stroke="#000" stroke-width="0.8"/>
<circle cx="347.4" cy="402.5" r="1.3" fill="#fff" stroke="#000" stroke-width="0.8"/>
<circle cx="353.4" cy="388.4" r="1.3" fill="#fff" stroke="#000" stroke-width="0.8"/>
<circle cx="355.6" cy="388.8" r="1.3" fill="#fff" stroke="#000" stroke-width="0.8"/>
<circle cx="354.5" cy="390.6" r="1.3" fill="#fff" stroke="#000" stroke-width="0.8"/>
<circle cx="354.5" cy="393" r="1.3" fill="#fff" stroke="#000" stroke-width="0.8"/>
<circle cx="354.5" cy="394.9" r="1.3" fill="#fff" stroke="#000" stroke-width="0.8"/>
<circle cx="359.9" cy="404.3" r="1.3" fill="#fff" stroke="#000" stroke-width="0.8"/>
<circle cx="362.2" cy="404.3" r="1.3" fill="#fff" stroke="#000" stroke-width="0.8"/>
<circle cx="361" cy="406.5" r="1.3" fill="#fff" stroke="#000" stroke-width="0.8"/>
<circle cx="361" cy="408" r="1.3" fill="#fff" stroke="#000" stroke-width="0.8"/>
<circle cx="367.6" cy="399.8" r="1.3" fill="#fff" stroke="#000" stroke-width="0.8"/>
<circle cx="368.4" cy="402.9" r="1.3" fill="#fff" stroke="#000" stroke-width="0.8"/>
<circle cx="367.6" cy="405.6" r="1.3" fill="#fff" stroke="#000" stroke-width="0.8"/>
<circle cx="368.4" cy="407.9" r="1.3" fill="#fff" stroke="#000" stroke-width="0.8"/>
<circle cx="367.6" cy="410.1" r="1.3" fill="#fff" stroke="#000" stroke-width="0.8"/>
<circle cx="368.4" cy="411.9" r="1.3" fill="#fff" stroke="#000" stroke-width="0.8"/>
<circle cx="377.9" cy="392.4" r="1.3" fill="#fff" stroke="#000" stroke-width="0.8"/>
<circle cx="380.3" cy="392.1" r="1.3" fill="#fff" stroke="#000" stroke-width="0.8"/>
<circle cx="378.7" cy="394.8" r="1.3" fill="#fff" stroke="#000" stroke-width="0.8"/>
<circle cx="379.5" cy="397.5" r="1.3" fill="#fff" stroke="#000" stroke-width="0.8"/>
<circle cx="378.7" cy="399.3" r="1.3" fill="#fff" stroke="#000" stroke-width="0.8"/>
<circle cx="379.5" cy="401.4" r="1.3" fill="#fff" stroke="#000" stroke-width="0.8"/>
<circle cx="385.7" cy="385.2" r="1.3" fill="#fff" stroke="#000" stroke-width="0.8"/>
<circle cx="386.5" cy="391.2" r="1.3" fill="#fff" stroke="#000" stroke-width="0.8"/>
<circle cx="385.7" cy="393.9" r="1.3" fill="#fff" stroke="#000" stroke-width="0.8"/>
<circle cx="386.5" cy="396.6" r="1.3" fill="#fff" stroke="#000" stroke-width="0.8"/>
<circle cx="385.7" cy="398.9" r="1.3" fill="#fff" stroke="#000" stroke-width="0.8"/>
<circle cx="386.5" cy="401.1" r="1.3" fill="#fff" stroke="#000" stroke-width="0.8"/>
<circle cx="385.7" cy="403.8" r="1.3" fill="#fff" stroke="#000" stroke-width="0.8"/>
<circle cx="392.4" cy="397.5" r="1.3" fill="#fff" stroke="#000" stroke-width="0.8"/>
<circle cx="393.2" cy="400.7" r="1.3" fill="#fff" stroke="#000" stroke-width="0.8"/>
<circle cx="392.4" cy="403.2" r="1.3" fill="#fff" stroke="#000" stroke-width="0.8"/>
<circle cx="393.2" cy="405.6" r="1.3" fill="#fff" stroke="#000" stroke-width="0.8"/>
<circle cx="392.4" cy="407.9" r="1.3" fill="#fff" stroke="#000" stroke-width="0.8"/>
<circle cx="399.4" cy="396.6" r="1.3" fill="#fff" stroke="#000" stroke-width="0.8"/>
<circle cx="400.4" cy="399.3" r="1.3" fill="#fff" stroke="#000" stroke-width="0.8"/>
<circle cx="399.4" cy="401.4" r="1.3" fill="#fff" stroke="#000" stroke-width="0.8"/>
<circle cx="400.4" cy="403.2" r="1.3" fill="#fff" stroke="#000" stroke-width="0.8"/>
<circle cx="399.4" cy="404.7" r="1.3" fill="#fff" stroke="#000" stroke-width="0.8"/>
<path d="M322.9 297V291.3H336.5V326.7" stroke="#111" stroke-width="1.05" fill="none"/>
<text transform="translate(330.4 294.66)" font-size="17.5" text-anchor="middle">**</text>
<path d="M352.6 351.1V346H369.4V381" stroke="#111" stroke-width="1.05" fill="none"/>
<text transform="translate(362.2 347.96)" font-size="17.5" text-anchor="middle">**</text>
<path d="M385.3 353.4V348.4H401.3V383.8" stroke="#111" stroke-width="1.05" fill="none"/>
<text transform="translate(393.3 350.26)" font-size="17.5" text-anchor="middle">*</text>
<text transform="translate(328.9 429) rotate(-45) scale(1 1.06)" font-size="13.4" text-anchor="end">S.I.</text>
<text transform="translate(360.5 429) rotate(-45) scale(1 1.06)" font-size="13.4" text-anchor="end">Cecum</text>
<text transform="translate(392.1 429) rotate(-45) scale(1 1.06)" font-size="13.4" text-anchor="end">Colon</text>
</g>
<g id="pD2">
<line x1="454.3" y1="274" x2="454.3" y2="418.4" stroke="#222" stroke-width="0.8"/>
<line x1="451.7" y1="418" x2="454.3" y2="418" stroke="#222" stroke-width="0.8"/>
<text transform="translate(451.3 422.93) scale(1 1.06)" font-size="13" text-anchor="end">0</text>
<line x1="451.7" y1="382.1" x2="454.3" y2="382.1" stroke="#222" stroke-width="0.8"/>
<text transform="translate(451.3 387.03) scale(1 1.06)" font-size="13" text-anchor="end">10</text>
<line x1="451.7" y1="346.2" x2="454.3" y2="346.2" stroke="#222" stroke-width="0.8"/>
<text transform="translate(451.3 351.13) scale(1 1.06)" font-size="13" text-anchor="end">20</text>
<line x1="451.7" y1="310.3" x2="454.3" y2="310.3" stroke="#222" stroke-width="0.8"/>
<text transform="translate(451.3 315.23) scale(1 1.06)" font-size="13" text-anchor="end">30</text>
<line x1="451.7" y1="274.4" x2="454.3" y2="274.4" stroke="#222" stroke-width="0.8"/>
<text transform="translate(451.3 279.33) scale(1 1.06)" font-size="13" text-anchor="end">40</text>
<line x1="453.9" y1="418" x2="550.2" y2="418" stroke="#222" stroke-width="0.8"/>
<line x1="477.7" y1="418" x2="477.7" y2="420.6" stroke="#222" stroke-width="0.8"/>
<line x1="526.8" y1="418" x2="526.8" y2="420.6" stroke="#222" stroke-width="0.8"/>
<text transform="translate(426.4 342) rotate(-90) scale(1 1.06)" font-size="13.2" text-anchor="middle">Intesitine (cm)</text>
<path d="M458.75 418V299.35H465.15V418" fill="#fff" stroke="#444" stroke-width="1.1"/>
<rect x="468.4" y="296.7" width="7.5" height="121.3" fill="#000"/>
<path d="M479.65 418V302.15H486.05V418" fill="#fff" stroke="#f44" stroke-width="1.1"/>
<rect x="489.7" y="304.8" width="7.8" height="113.2" fill="#f00"/>
<path d="M508.15 418V395.55H514.55V418" fill="#fff" stroke="#444" stroke-width="1.1"/>
<rect x="517.8" y="393.6" width="7.5" height="24.4" fill="#000"/>
<path d="M529.05 418V397.45H535.45V418" fill="#fff" stroke="#f44" stroke-width="1.1"/>
<rect x="539.1" y="398.2" width="7.8" height="19.8" fill="#f00"/>
<circle cx="463.7" cy="288.2" r="1.3" fill="#fff" stroke="#000" stroke-width="0.8"/>
<circle cx="459.6" cy="290.9" r="1.3" fill="#fff" stroke="#000" stroke-width="0.8"/>
<circle cx="461.4" cy="294.5" r="1.3" fill="#fff" stroke="#000" stroke-width="0.8"/>
<circle cx="459.6" cy="297.2" r="1.3" fill="#fff" stroke="#000" stroke-width="0.8"/>
<circle cx="463.2" cy="298.1" r="1.3" fill="#fff" stroke="#000" stroke-width="0.8"/>
<circle cx="461.4" cy="300.8" r="1.3" fill="#fff" stroke="#000" stroke-width="0.8"/>
<circle cx="463.7" cy="303.5" r="1.3" fill="#fff" stroke="#000" stroke-width="0.8"/>
<circle cx="459.6" cy="306.2" r="1.3" fill="#fff" stroke="#000" stroke-width="0.8"/>
<circle cx="462" cy="309.3" r="1.3" fill="#fff" stroke="#000" stroke-width="0.8"/>
<circle cx="470" cy="291.8" r="1.3" fill="#fff" stroke="#000" stroke-width="0.8"/>
<circle cx="474.6" cy="293" r="1.3" fill="#fff" stroke="#000" stroke-width="0.8"/>
<circle cx="471" cy="294.9" r="1.3" fill="#fff" stroke="#000" stroke-width="0.8"/>
<circle cx="473.3" cy="295.4" r="1.3" fill="#fff" stroke="#000" stroke-width="0.8"/>
<circle cx="470" cy="297.2" r="1.3" fill="#fff" stroke="#000" stroke-width="0.8"/>
<circle cx="474.6" cy="298.1" r="1.3" fill="#fff" stroke="#000" stroke-width="0.8"/>
<circle cx="471.9" cy="299.5" r="1.3" fill="#fff" stroke="#000" stroke-width="0.8"/>
<circle cx="483" cy="293.6" r="1.3" fill="#fff" stroke="#000" stroke-width="0.8"/>
<circle cx="480.9" cy="297.2" r="1.3" fill="#fff" stroke="#000" stroke-width="0.8"/>
<circle cx="485" cy="297.2" r="1.3" fill="#fff" stroke="#000" stroke-width="0.8"/>
<circle cx="483" cy="297.4" r="1.3" fill="#fff" stroke="#000" stroke-width="0.8"/>
<circle cx="481.8" cy="305.3" r="1.3" fill="#fff" stroke="#000" stroke-width="0.8"/>
<circle cx="484.5" cy="305.3" r="1.3" fill="#fff" stroke="#000" stroke-width="0.8"/>
<circle cx="483" cy="303.9" r="1.3" fill="#fff" stroke="#000" stroke-width="0.8"/>
<circle cx="495.9" cy="299.5" r="1.3" fill="#fff" stroke="#000" stroke-width="0.8"/>
<circle cx="493.9" cy="301.7" r="1.3" fill="#fff" stroke="#000" stroke-width="0.8"/>
<circle cx="492.1" cy="303.9" r="1.3" fill="#fff" stroke="#000" stroke-width="0.8"/>
<circle cx="495.3" cy="303.9" r="1.3" fill="#fff" stroke="#000" stroke-width="0.8"/>
<circle cx="493.9" cy="306.2" r="1.3" fill="#fff" stroke="#000" stroke-width="0.8"/>
<circle cx="492.6" cy="308" r="1.3" fill="#fff" stroke="#000" stroke-width="0.8"/>
<circle cx="493.5" cy="315.8" r="1.3" fill="#fff" stroke="#000" stroke-width="0.8"/>
<circle cx="509.2" cy="391.8" r="1.3" fill="#fff" stroke="#000" stroke-width="0.8"/>
<circle cx="513.3" cy="392.4" r="1.3" fill="#fff" stroke="#000" stroke-width="0.8"/>
<circle cx="511.3" cy="394.5" r="1.3" fill="#fff" stroke="#000" stroke-width="0.8"/>
<circle cx="510.2" cy="395.6" r="1.3" fill="#fff" stroke="#000" stroke-width="0.8"/>
<circle cx="513" cy="396.7" r="1.3" fill="#fff" stroke="#000" stroke-width="0.8"/>
<circle cx="509.7" cy="393.4" r="1.3" fill="#fff" stroke="#000" stroke-width="0.8"/>
<circle cx="520" cy="390.7" r="1.3" fill="#fff" stroke="#000" stroke-width="0.8"/>
<circle cx="523.8" cy="390.5" r="1.3" fill="#fff" stroke="#000" stroke-width="0.8"/>
<circle cx="521.9" cy="392.4" r="1.3" fill="#fff" stroke="#000" stroke-width="0.8"/>
<circle cx="520" cy="393.4" r="1.3" fill="#fff" stroke="#000" stroke-width="0.8"/>
<circle cx="523.5" cy="393.8" r="1.3" fill="#fff" stroke="#000" stroke-width="0.8"/>
<circle cx="531.4" cy="393.4" r="1.3" fill="#fff" stroke="#000" stroke-width="0.8"/>
<circle cx="534.6" cy="392.9" r="1.3" fill="#fff" stroke="#000" stroke-width="0.8"/>
<circle cx="532.4" cy="395.3" r="1.3" fill="#fff" stroke="#000" stroke-width="0.8"/>
<circle cx="530.3" cy="397.5" r="1.3" fill="#fff" stroke="#000" stroke-width="0.8"/>
<circle cx="534.1" cy="397.2" r="1.3" fill="#fff" stroke="#000" stroke-width="0.8"/>
<circle cx="532" cy="398.3" r="1.3" fill="#fff" stroke="#000" stroke-width="0.8"/>
<circle cx="543.3" cy="393.4" r="1.3" fill="#fff" stroke="#000" stroke-width="0.8"/>
<circle cx="541.1" cy="395.3" r="1.3" fill="#fff" stroke="#000" stroke-width="0.8"/>
<circle cx="545.1" cy="395.3" r="1.3" fill="#fff" stroke="#000" stroke-width="0.8"/>
<circle cx="543.3" cy="396.7" r="1.3" fill="#fff" stroke="#000" stroke-width="0.8"/>
<circle cx="541.7" cy="398.9" r="1.3" fill="#fff" stroke="#000" stroke-width="0.8"/>
<circle cx="544.7" cy="398.3" r="1.3" fill="#fff" stroke="#000" stroke-width="0.8"/>
<path d="M471.4 283.6V278.2H494.8V283.6" stroke="#111" stroke-width="1.05" fill="none"/>
<text transform="translate(484.2 279.96)" font-size="17.5" text-anchor="middle">**</text>
<path d="M521.8 378.4V372.5H544.5V378.4" stroke="#111" stroke-width="1.05" fill="none"/>
<text transform="translate(533.3 374.46)" font-size="17.5" text-anchor="middle">*</text>
<text transform="translate(480.9 428.7) rotate(-45) scale(1 1.06)" font-size="13.4" text-anchor="end">S.I.</text>
<text transform="translate(530 428.7) rotate(-45) scale(1 1.06)" font-size="13.4" text-anchor="end">Colon</text>
</g>
<g id="pE">
<path d="M60.12 640.9V570.83H73.47V640.9" fill="#fff" stroke="#505050" stroke-width="1.25"/>
<rect x="79.2" y="576.7" width="13.8" height="64.2" fill="#000"/>
<path d="M98.72 640.9V539.83H112.47V640.9" fill="#fff" stroke="#f88" stroke-width="1.25"/>
<rect x="117.6" y="555.9" width="14.8" height="85" fill="#fa2028"/>
<line x1="53.8" y1="512.4" x2="53.8" y2="641.3" stroke="#222" stroke-width="0.9"/>
<line x1="52" y1="640.9" x2="53.8" y2="640.9" stroke="#222" stroke-width="0.9"/>
<text transform="translate(51.5 645.45) scale(1 1.06)" font-size="12" text-anchor="end">0</text>
<line x1="52" y1="615.28" x2="53.8" y2="615.28" stroke="#222" stroke-width="0.9"/>
<text transform="translate(51.5 619.83) scale(1 1.06)" font-size="12" text-anchor="end">50</text>
<line x1="52" y1="589.66" x2="53.8" y2="589.66" stroke="#222" stroke-width="0.9"/>
<text transform="translate(51.5 594.21) scale(1 1.06)" font-size="12" text-anchor="end">100</text>
<line x1="52" y1="564.04" x2="53.8" y2="564.04" stroke="#222" stroke-width="0.9"/>
<text transform="translate(51.5 568.59) scale(1 1.06)" font-size="12" text-anchor="end">150</text>
<line x1="52" y1="538.42" x2="53.8" y2="538.42" stroke="#222" stroke-width="0.9"/>
<text transform="translate(51.5 542.97) scale(1 1.06)" font-size="12" text-anchor="end">200</text>
<line x1="52" y1="512.8" x2="53.8" y2="512.8" stroke="#222" stroke-width="0.9"/>
<text transform="translate(51.5 517.35) scale(1 1.06)" font-size="12" text-anchor="end">250</text>
<line x1="53.4" y1="640.9" x2="138.6" y2="640.9" stroke="#222" stroke-width="0.9"/>
<line x1="66.9" y1="640.9" x2="66.9" y2="643.5" stroke="#222" stroke-width="0.9"/>
<line x1="86.1" y1="640.9" x2="86.1" y2="643.5" stroke="#222" stroke-width="0.9"/>
<line x1="105.5" y1="640.9" x2="105.5" y2="643.5" stroke="#222" stroke-width="0.9"/>
<line x1="125.1" y1="640.9" x2="125.1" y2="643.5" stroke="#222" stroke-width="0.9"/>
<text transform="translate(21.3 573.4) rotate(-90) scale(1 1.06)" font-size="12.2" text-anchor="middle">Blood glucose (mg/dL)</text>
<line x1="67" y1="570.2" x2="67" y2="564.9" stroke="#111" stroke-width="0.7"/>
<line x1="65.2" y1="564.9" x2="68.8" y2="564.9" stroke="#111" stroke-width="0.7"/>
<line x1="86.1" y1="576.7" x2="86.1" y2="573.5" stroke="#111" stroke-width="0.7"/>
<line x1="84.3" y1="573.5" x2="87.9" y2="573.5" stroke="#111" stroke-width="0.7"/>
<line x1="105.2" y1="539.2" x2="105.2" y2="536.8" stroke="#111" stroke-width="0.7"/>
<line x1="103.4" y1="536.8" x2="107" y2="536.8" stroke="#111" stroke-width="0.7"/>
<line x1="124.9" y1="555.9" x2="124.9" y2="552.7" stroke="#111" stroke-width="0.7"/>
<line x1="123.1" y1="552.7" x2="126.7" y2="552.7" stroke="#111" stroke-width="0.7"/>
<circle cx="66.7" cy="550.6" r="1.3" fill="#fff" stroke="#000" stroke-width="0.7"/>
<circle cx="66.7" cy="558" r="1.3" fill="#fff" stroke="#000" stroke-width="0.7"/>
<circle cx="66.7" cy="561.6" r="1.3" fill="#fff" stroke="#000" stroke-width="0.7"/>
<circle cx="66.7" cy="570.5" r="1.3" fill="#fff" stroke="#000" stroke-width="0.7"/>
<circle cx="66.7" cy="578.2" r="1.3" fill="#fff" stroke="#000" stroke-width="0.7"/>
<circle cx="66.7" cy="584" r="1.3" fill="#fff" stroke="#000" stroke-width="0.7"/>
<circle cx="66.7" cy="588.4" r="1.3" fill="#fff" stroke="#000" stroke-width="0.7"/>
<circle cx="86.1" cy="560.5" r="1.3" fill="#fff" stroke="#000" stroke-width="0.7"/>
<circle cx="83.3" cy="569.4" r="1.3" fill="#fff" stroke="#000" stroke-width="0.7"/>
<circle cx="88.7" cy="568.4" r="1.3" fill="#fff" stroke="#000" stroke-width="0.7"/>
<circle cx="80.9" cy="582.4" r="1.3" fill="#fff" stroke="#000" stroke-width="0.7"/>
<circle cx="86.1" cy="582.7" r="1.3" fill="#fff" stroke="#000" stroke-width="0.7"/>
<circle cx="91.4" cy="583.5" r="1.3" fill="#fff" stroke="#000" stroke-width="0.7"/>
<circle cx="80.9" cy="585.6" r="1.3" fill="#fff" stroke="#000" stroke-width="0.7"/>
<circle cx="91.4" cy="585.9" r="1.3" fill="#fff" stroke="#000" stroke-width="0.7"/>
<circle cx="105.6" cy="521.5" r="1.3" fill="#fff" stroke="#000" stroke-width="0.7"/>
<circle cx="105.6" cy="534.5" r="1.3" fill="#fff" stroke="#000" stroke-width="0.7"/>
<circle cx="102.8" cy="537.6" r="1.3" fill="#fff" stroke="#000" stroke-width="0.7"/>
<circle cx="108.2" cy="538.5" r="1.3" fill="#fff" stroke="#000" stroke-width="0.7"/>
<circle cx="102.8" cy="541.3" r="1.3" fill="#fff" stroke="#000" stroke-width="0.7"/>
<circle cx="105.6" cy="538.8" r="1.3" fill="#fff" stroke="#000" stroke-width="0.7"/>
<circle cx="105.6" cy="547.3" r="1.3" fill="#fff" stroke="#000" stroke-width="0.7"/>
<circle cx="105.6" cy="550.2" r="1.3" fill="#fff" stroke="#000" stroke-width="0.7"/>
<circle cx="125" cy="540.2" r="1.3" fill="#fff" stroke="#000" stroke-width="0.7"/>
<circle cx="125" cy="545.8" r="1.3" fill="#fff" stroke="#000" stroke-width="0.7"/>
<circle cx="122.3" cy="550.2" r="1.3" fill="#fff" stroke="#000" stroke-width="0.7"/>
<circle cx="127.6" cy="550.2" r="1.3" fill="#fff" stroke="#000" stroke-width="0.7"/>
<circle cx="122.3" cy="561.3" r="1.3" fill="#fff" stroke="#000" stroke-width="0.7"/>
<circle cx="127.6" cy="560.8" r="1.3" fill="#fff" stroke="#000" stroke-width="0.7"/>
<circle cx="122.3" cy="569.7" r="1.3" fill="#fff" stroke="#000" stroke-width="0.7"/>
<circle cx="127.6" cy="569.4" r="1.3" fill="#fff" stroke="#000" stroke-width="0.7"/>
<text transform="translate(69.5 652.3) rotate(-45) scale(1 1.06)" font-size="12.4" text-anchor="end">Control</text>
<text transform="translate(88.7 652.3) rotate(-45) scale(1 1.06)" font-size="12.4" text-anchor="end">Nicotine</text>
<text transform="translate(108.1 652.3) rotate(-45) scale(1 1.06)" font-size="12.4" text-anchor="end">Control</text>
<text transform="translate(127.7 652.3) rotate(-45) scale(1 1.06)" font-size="12.4" text-anchor="end">Nicotine</text>
</g>
<path d="M104.4 512.5V507.7H126.7V529.6" stroke="#111" stroke-width="1.05" fill="none"/>
<text transform="translate(115.8 508.93)" font-size="15" text-anchor="middle">*</text>
<g id="pF1">
<path d="M204.53 640.8V581.02H216.78V640.8" fill="#fff" stroke="#505050" stroke-width="1.25"/>
<rect x="223.4" y="575.6" width="13.8" height="65.2" fill="#000"/>
<path d="M243.53 640.8V582.02H256.07V640.8" fill="#fff" stroke="#f88" stroke-width="1.25"/>
<rect x="262.1" y="572.8" width="14.9" height="68" fill="#fa2028"/>
<line x1="197.7" y1="512.4" x2="197.7" y2="641.2" stroke="#222" stroke-width="0.9"/>
<line x1="195.9" y1="640.8" x2="197.7" y2="640.8" stroke="#222" stroke-width="0.9"/>
<text transform="translate(195.4 645.35) scale(1 1.06)" font-size="12" text-anchor="end">0</text>
<line x1="195.9" y1="598.13" x2="197.7" y2="598.13" stroke="#222" stroke-width="0.9"/>
<text transform="translate(195.4 602.68) scale(1 1.06)" font-size="12" text-anchor="end">50</text>
<line x1="195.9" y1="555.46" x2="197.7" y2="555.46" stroke="#222" stroke-width="0.9"/>
<text transform="translate(195.4 560.01) scale(1 1.06)" font-size="12" text-anchor="end">100</text>
<line x1="195.9" y1="512.79" x2="197.7" y2="512.79" stroke="#222" stroke-width="0.9"/>
<text transform="translate(195.4 517.34) scale(1 1.06)" font-size="12" text-anchor="end">150</text>
<line x1="197.3" y1="640.8" x2="281.5" y2="640.8" stroke="#222" stroke-width="0.9"/>
<line x1="210.7" y1="640.8" x2="210.7" y2="643.4" stroke="#222" stroke-width="0.9"/>
<line x1="230.4" y1="640.8" x2="230.4" y2="643.4" stroke="#222" stroke-width="0.9"/>
<line x1="249.9" y1="640.8" x2="249.9" y2="643.4" stroke="#222" stroke-width="0.9"/>
<line x1="269.7" y1="640.8" x2="269.7" y2="643.4" stroke="#222" stroke-width="0.9"/>
<text transform="translate(165.4 572.5) rotate(-90) scale(1 1.06)" font-size="12" text-anchor="middle">Plasma TG (mg/dL)</text>
<line x1="210.6" y1="580.4" x2="210.6" y2="568.2" stroke="#111" stroke-width="0.7"/>
<line x1="208.8" y1="568.2" x2="212.4" y2="568.2" stroke="#111" stroke-width="0.7"/>
<line x1="230.3" y1="575.6" x2="230.3" y2="568" stroke="#111" stroke-width="0.7"/>
<line x1="228.5" y1="568" x2="232.1" y2="568" stroke="#111" stroke-width="0.7"/>
<line x1="249.8" y1="581.4" x2="249.8" y2="574.9" stroke="#111" stroke-width="0.7"/>
<line x1="248" y1="574.9" x2="251.6" y2="574.9" stroke="#111" stroke-width="0.7"/>
<line x1="269.5" y1="572.8" x2="269.5" y2="568.7" stroke="#111" stroke-width="0.7"/>
<line x1="267.7" y1="568.7" x2="271.3" y2="568.7" stroke="#111" stroke-width="0.7"/>
<circle cx="210.4" cy="535.8" r="1.3" fill="#fff" stroke="#000" stroke-width="0.7"/>
<circle cx="210.4" cy="541.4" r="1.3" fill="#fff" stroke="#000" stroke-width="0.7"/>
<circle cx="210.4" cy="550" r="1.3" fill="#fff" stroke="#000" stroke-width="0.7"/>
<circle cx="210.4" cy="578.2" r="1.3" fill="#fff" stroke="#000" stroke-width="0.7"/>
<circle cx="210.4" cy="598.3" r="1.3" fill="#fff" stroke="#000" stroke-width="0.7"/>
<circle cx="208" cy="612.3" r="1.3" fill="#fff" stroke="#000" stroke-width="0.7"/>
<circle cx="212.9" cy="612.3" r="1.3" fill="#fff" stroke="#000" stroke-width="0.7"/>
<circle cx="210.4" cy="615" r="1.3" fill="#fff" stroke="#000" stroke-width="0.7"/>
<circle cx="230.2" cy="533" r="1.3" fill="#fff" stroke="#000" stroke-width="0.7"/>
<circle cx="230.2" cy="563.9" r="1.3" fill="#fff" stroke="#000" stroke-width="0.7"/>
<circle cx="227.5" cy="569.5" r="1.3" fill="#fff" stroke="#000" stroke-width="0.7"/>
<circle cx="230.2" cy="567.9" r="1.3" fill="#fff" stroke="#000" stroke-width="0.7"/>
<circle cx="233.2" cy="569.5" r="1.3" fill="#fff" stroke="#000" stroke-width="0.7"/>
<circle cx="230.2" cy="586.6" r="1.3" fill="#fff" stroke="#000" stroke-width="0.7"/>
<circle cx="230.2" cy="600.7" r="1.3" fill="#fff" stroke="#000" stroke-width="0.7"/>
<circle cx="230.2" cy="612.1" r="1.3" fill="#fff" stroke="#000" stroke-width="0.7"/>
<circle cx="249.9" cy="555.2" r="1.3" fill="#fff" stroke="#000" stroke-width="0.7"/>
<circle cx="249.9" cy="561.1" r="1.3" fill="#fff" stroke="#000" stroke-width="0.7"/>
<circle cx="249.9" cy="567.1" r="1.3" fill="#fff" stroke="#000" stroke-width="0.7"/>
<circle cx="249.9" cy="575.2" r="1.3" fill="#fff" stroke="#000" stroke-width="0.7"/>
<circle cx="249.9" cy="580.9" r="1.3" fill="#fff" stroke="#000" stroke-width="0.7"/>
<circle cx="249.9" cy="589.5" r="1.3" fill="#fff" stroke="#000" stroke-width="0.7"/>
<circle cx="249.9" cy="606.4" r="1.3" fill="#fff" stroke="#000" stroke-width="0.7"/>
<circle cx="249.9" cy="615" r="1.3" fill="#fff" stroke="#000" stroke-width="0.7"/>
<circle cx="267" cy="561.1" r="1.3" fill="#fff" stroke="#000" stroke-width="0.7"/>
<circle cx="272.2" cy="561.1" r="1.3" fill="#fff" stroke="#000" stroke-width="0.7"/>
<circle cx="264.5" cy="569.5" r="1.3" fill="#fff" stroke="#000" stroke-width="0.7"/>
<circle cx="269.4" cy="569.5" r="1.3" fill="#fff" stroke="#000" stroke-width="0.7"/>
<circle cx="274.9" cy="569.5" r="1.3" fill="#fff" stroke="#000" stroke-width="0.7"/>
<circle cx="269.4" cy="572.8" r="1.3" fill="#fff" stroke="#000" stroke-width="0.7"/>
<circle cx="269.4" cy="580.9" r="1.3" fill="#fff" stroke="#000" stroke-width="0.7"/>
<circle cx="269.4" cy="598.3" r="1.3" fill="#fff" stroke="#000" stroke-width="0.7"/>
<text transform="translate(213.3 652.2) rotate(-45) scale(1 1.06)" font-size="12.4" text-anchor="end">Control</text>
<text transform="translate(233 652.2) rotate(-45) scale(1 1.06)" font-size="12.4" text-anchor="end">Nicotine</text>
<text transform="translate(252.5 652.2) rotate(-45) scale(1 1.06)" font-size="12.4" text-anchor="end">Control</text>
<text transform="translate(272.3 652.2) rotate(-45) scale(1 1.06)" font-size="12.4" text-anchor="end">Nicotine</text>
</g>
<g id="pF2">
<path d="M340.82 640.8V595.02H353.77V640.8" fill="#fff" stroke="#505050" stroke-width="1.25"/>
<rect x="360.1" y="593.9" width="13.8" height="46.9" fill="#000"/>
<path d="M379.82 640.8V551.12H393.07V640.8" fill="#fff" stroke="#f88" stroke-width="1.25"/>
<rect x="398.2" y="551.7" width="15.1" height="89.1" fill="#fa2028"/>
<line x1="334.5" y1="512.4" x2="334.5" y2="641.2" stroke="#222" stroke-width="0.9"/>
<line x1="332.7" y1="640.8" x2="334.5" y2="640.8" stroke="#222" stroke-width="0.9"/>
<text transform="translate(332.2 645.35) scale(1 1.06)" font-size="12" text-anchor="end">0</text>
<line x1="332.7" y1="608.8" x2="334.5" y2="608.8" stroke="#222" stroke-width="0.9"/>
<text transform="translate(332.2 613.35) scale(1 1.06)" font-size="12" text-anchor="end">50</text>
<line x1="332.7" y1="576.8" x2="334.5" y2="576.8" stroke="#222" stroke-width="0.9"/>
<text transform="translate(332.2 581.35) scale(1 1.06)" font-size="12" text-anchor="end">100</text>
<line x1="332.7" y1="544.8" x2="334.5" y2="544.8" stroke="#222" stroke-width="0.9"/>
<text transform="translate(332.2 549.35) scale(1 1.06)" font-size="12" text-anchor="end">150</text>
<line x1="332.7" y1="512.8" x2="334.5" y2="512.8" stroke="#222" stroke-width="0.9"/>
<text transform="translate(332.2 517.35) scale(1 1.06)" font-size="12" text-anchor="end">200</text>
<line x1="334.1" y1="640.8" x2="418.6" y2="640.8" stroke="#222" stroke-width="0.9"/>
<line x1="346.9" y1="640.8" x2="346.9" y2="643.4" stroke="#222" stroke-width="0.9"/>
<line x1="366.8" y1="640.8" x2="366.8" y2="643.4" stroke="#222" stroke-width="0.9"/>
<line x1="386.2" y1="640.8" x2="386.2" y2="643.4" stroke="#222" stroke-width="0.9"/>
<line x1="406" y1="640.8" x2="406" y2="643.4" stroke="#222" stroke-width="0.9"/>
<text transform="translate(300 573.5) rotate(-90) scale(1 1.06)" font-size="12" text-anchor="middle">Total cholesterol (mg/dL)</text>
<line x1="347.3" y1="594.4" x2="347.3" y2="590.2" stroke="#111" stroke-width="0.7"/>
<line x1="345.5" y1="590.2" x2="349.1" y2="590.2" stroke="#111" stroke-width="0.7"/>
<line x1="367" y1="593.9" x2="367" y2="591" stroke="#111" stroke-width="0.7"/>
<line x1="365.2" y1="591" x2="368.8" y2="591" stroke="#111" stroke-width="0.7"/>
<line x1="386.4" y1="550.5" x2="386.4" y2="547.6" stroke="#111" stroke-width="0.7"/>
<line x1="384.6" y1="547.6" x2="388.2" y2="547.6" stroke="#111" stroke-width="0.7"/>
<line x1="405.8" y1="551.7" x2="405.8" y2="548.4" stroke="#111" stroke-width="0.7"/>
<line x1="404" y1="548.4" x2="407.6" y2="548.4" stroke="#111" stroke-width="0.7"/>
<circle cx="347.4" cy="580.6" r="1.3" fill="#fff" stroke="#000" stroke-width="0.7"/>
<circle cx="347.4" cy="584.2" r="1.3" fill="#fff" stroke="#000" stroke-width="0.7"/>
<circle cx="344.6" cy="590.2" r="1.3" fill="#fff" stroke="#000" stroke-width="0.7"/>
<circle cx="350.3" cy="589.9" r="1.3" fill="#fff" stroke="#000" stroke-width="0.7"/>
<circle cx="344.6" cy="596" r="1.3" fill="#fff" stroke="#000" stroke-width="0.7"/>
<circle cx="350.3" cy="596" r="1.3" fill="#fff" stroke="#000" stroke-width="0.7"/>
<circle cx="347.4" cy="604.8" r="1.3" fill="#fff" stroke="#000" stroke-width="0.7"/>
<circle cx="347.4" cy="612.1" r="1.3" fill="#fff" stroke="#000" stroke-width="0.7"/>
<circle cx="361.7" cy="588.6" r="1.3" fill="#fff" stroke="#000" stroke-width="0.7"/>
<circle cx="366.9" cy="586.9" r="1.3" fill="#fff" stroke="#000" stroke-width="0.7"/>
<circle cx="372.2" cy="587.9" r="1.3" fill="#fff" stroke="#000" stroke-width="0.7"/>
<circle cx="364.1" cy="591.5" r="1.3" fill="#fff" stroke="#000" stroke-width="0.7"/>
<circle cx="369" cy="593.4" r="1.3" fill="#fff" stroke="#000" stroke-width="0.7"/>
<circle cx="364.1" cy="593.9" r="1.3" fill="#fff" stroke="#000" stroke-width="0.7"/>
<circle cx="366.9" cy="599.6" r="1.3" fill="#fff" stroke="#000" stroke-width="0.7"/>
<circle cx="366.9" cy="606.4" r="1.3" fill="#fff" stroke="#000" stroke-width="0.7"/>
<circle cx="386.4" cy="532.7" r="1.3" fill="#fff" stroke="#000" stroke-width="0.7"/>
<circle cx="386.4" cy="544" r="1.3" fill="#fff" stroke="#000" stroke-width="0.7"/>
<circle cx="381.2" cy="552.5" r="1.3" fill="#fff" stroke="#000" stroke-width="0.7"/>
<circle cx="385.2" cy="551.7" r="1.3" fill="#fff" stroke="#000" stroke-width="0.7"/>
<circle cx="388.5" cy="551.7" r="1.3" fill="#fff" stroke="#000" stroke-width="0.7"/>
<circle cx="391.7" cy="552" r="1.3" fill="#fff" stroke="#000" stroke-width="0.7"/>
<circle cx="383.9" cy="561.4" r="1.3" fill="#fff" stroke="#000" stroke-width="0.7"/>
<circle cx="389.3" cy="559.5" r="1.3" fill="#fff" stroke="#000" stroke-width="0.7"/>
<circle cx="406" cy="530.9" r="1.3" fill="#fff" stroke="#000" stroke-width="0.7"/>
<circle cx="403.4" cy="546.8" r="1.3" fill="#fff" stroke="#000" stroke-width="0.7"/>
<circle cx="408.8" cy="545.2" r="1.3" fill="#fff" stroke="#000" stroke-width="0.7"/>
<circle cx="408.8" cy="550.4" r="1.3" fill="#fff" stroke="#000" stroke-width="0.7"/>
<circle cx="403.4" cy="553" r="1.3" fill="#fff" stroke="#000" stroke-width="0.7"/>
<circle cx="408.8" cy="557" r="1.3" fill="#fff" stroke="#000" stroke-width="0.7"/>
<circle cx="403.4" cy="559" r="1.3" fill="#fff" stroke="#000" stroke-width="0.7"/>
<circle cx="406" cy="569.5" r="1.3" fill="#fff" stroke="#000" stroke-width="0.7"/>
<text transform="translate(349.5 652.2) rotate(-45) scale(1 1.06)" font-size="12.4" text-anchor="end">Control</text>
<text transform="translate(369.4 652.2) rotate(-45) scale(1 1.06)" font-size="12.4" text-anchor="end">Nicotine</text>
<text transform="translate(388.8 652.2) rotate(-45) scale(1 1.06)" font-size="12.4" text-anchor="end">Control</text>
<text transform="translate(408.6 652.2) rotate(-45) scale(1 1.06)" font-size="12.4" text-anchor="end">Nicotine</text>
</g>
<g id="pF3">
<path d="M472.93 640.3V559.12H485.48V640.3" fill="#fff" stroke="#505050" stroke-width="1.25"/>
<rect x="492.2" y="549.3" width="13.8" height="91" fill="#000"/>
<path d="M511.93 640.3V559.12H524.98V640.3" fill="#fff" stroke="#f88" stroke-width="1.25"/>
<rect x="530.9" y="542.8" width="14.6" height="97.5" fill="#fa2028"/>
<line x1="465.9" y1="511.1" x2="465.9" y2="640.7" stroke="#222" stroke-width="0.9"/>
<line x1="464.1" y1="640.3" x2="465.9" y2="640.3" stroke="#222" stroke-width="0.9"/>
<text transform="translate(463.6 644.85) scale(1 1.06)" font-size="12" text-anchor="end">0.0</text>
<line x1="464.1" y1="597.37" x2="465.9" y2="597.37" stroke="#222" stroke-width="0.9"/>
<text transform="translate(463.6 601.92) scale(1 1.06)" font-size="12" text-anchor="end">0.5</text>
<line x1="464.1" y1="554.44" x2="465.9" y2="554.44" stroke="#222" stroke-width="0.9"/>
<text transform="translate(463.6 558.99) scale(1 1.06)" font-size="12" text-anchor="end">1.0</text>
<line x1="464.1" y1="511.51" x2="465.9" y2="511.51" stroke="#222" stroke-width="0.9"/>
<text transform="translate(463.6 516.06) scale(1 1.06)" font-size="12" text-anchor="end">1.5</text>
<line x1="465.5" y1="640.3" x2="551.2" y2="640.3" stroke="#222" stroke-width="0.9"/>
<line x1="479.2" y1="640.3" x2="479.2" y2="642.9" stroke="#222" stroke-width="0.9"/>
<line x1="498.9" y1="640.3" x2="498.9" y2="642.9" stroke="#222" stroke-width="0.9"/>
<line x1="518.5" y1="640.3" x2="518.5" y2="642.9" stroke="#222" stroke-width="0.9"/>
<line x1="538.3" y1="640.3" x2="538.3" y2="642.9" stroke="#222" stroke-width="0.9"/>
<text transform="translate(436.8 574) rotate(-90) scale(1 1.06)" font-size="12.3" text-anchor="middle">NEFAs (mEq/L)</text>
<line x1="479.2" y1="558.5" x2="479.2" y2="552.8" stroke="#111" stroke-width="0.7"/>
<line x1="477.4" y1="552.8" x2="481" y2="552.8" stroke="#111" stroke-width="0.7"/>
<line x1="499.1" y1="549.3" x2="499.1" y2="544" stroke="#111" stroke-width="0.7"/>
<line x1="497.3" y1="544" x2="500.9" y2="544" stroke="#111" stroke-width="0.7"/>
<line x1="518.4" y1="558.5" x2="518.4" y2="554.8" stroke="#111" stroke-width="0.7"/>
<line x1="516.6" y1="554.8" x2="520.2" y2="554.8" stroke="#111" stroke-width="0.7"/>
<line x1="538.2" y1="542.8" x2="538.2" y2="538.5" stroke="#111" stroke-width="0.7"/>
<line x1="536.4" y1="538.5" x2="540" y2="538.5" stroke="#111" stroke-width="0.7"/>
<circle cx="476.6" cy="539.9" r="1.3" fill="#fff" stroke="#000" stroke-width="0.7"/>
<circle cx="481.9" cy="537.9" r="1.3" fill="#fff" stroke="#000" stroke-width="0.7"/>
<circle cx="479.1" cy="547.3" r="1.3" fill="#fff" stroke="#000" stroke-width="0.7"/>
<circle cx="479.1" cy="553.1" r="1.3" fill="#fff" stroke="#000" stroke-width="0.7"/>
<circle cx="479.1" cy="555.3" r="1.3" fill="#fff" stroke="#000" stroke-width="0.7"/>
<circle cx="479.1" cy="560.6" r="1.3" fill="#fff" stroke="#000" stroke-width="0.7"/>
<circle cx="479.1" cy="565.1" r="1.3" fill="#fff" stroke="#000" stroke-width="0.7"/>
<circle cx="479.1" cy="578" r="1.3" fill="#fff" stroke="#000" stroke-width="0.7"/>
<circle cx="479.1" cy="582.7" r="1.3" fill="#fff" stroke="#000" stroke-width="0.7"/>
<circle cx="498.9" cy="526.9" r="1.3" fill="#fff" stroke="#000" stroke-width="0.7"/>
<circle cx="498.9" cy="535.7" r="1.3" fill="#fff" stroke="#000" stroke-width="0.7"/>
<circle cx="498.9" cy="539.4" r="1.3" fill="#fff" stroke="#000" stroke-width="0.7"/>
<circle cx="500.2" cy="544.5" r="1.3" fill="#fff" stroke="#000" stroke-width="0.7"/>
<circle cx="496.9" cy="546.5" r="1.3" fill="#fff" stroke="#000" stroke-width="0.7"/>
<circle cx="498.9" cy="557" r="1.3" fill="#fff" stroke="#000" stroke-width="0.7"/>
<circle cx="498.9" cy="561.9" r="1.3" fill="#fff" stroke="#000" stroke-width="0.7"/>
<circle cx="498.9" cy="580.9" r="1.3" fill="#fff" stroke="#000" stroke-width="0.7"/>
<circle cx="513.5" cy="548.5" r="1.3" fill="#fff" stroke="#000" stroke-width="0.7"/>
<circle cx="518.5" cy="546" r="1.3" fill="#fff" stroke="#000" stroke-width="0.7"/>
<circle cx="523.8" cy="547.3" r="1.3" fill="#fff" stroke="#000" stroke-width="0.7"/>
<circle cx="516" cy="555.1" r="1.3" fill="#fff" stroke="#000" stroke-width="0.7"/>
<circle cx="521" cy="553.5" r="1.3" fill="#fff" stroke="#000" stroke-width="0.7"/>
<circle cx="518.5" cy="561.8" r="1.3" fill="#fff" stroke="#000" stroke-width="0.7"/>
<circle cx="518.5" cy="574.2" r="1.3" fill="#fff" stroke="#000" stroke-width="0.7"/>
<circle cx="518.5" cy="579.4" r="1.3" fill="#fff" stroke="#000" stroke-width="0.7"/>
<circle cx="538.1" cy="525.4" r="1.3" fill="#fff" stroke="#000" stroke-width="0.7"/>
<circle cx="538.1" cy="530.2" r="1.3" fill="#fff" stroke="#000" stroke-width="0.7"/>
<circle cx="535.6" cy="536.5" r="1.3" fill="#fff" stroke="#000" stroke-width="0.7"/>
<circle cx="540.9" cy="535.4" r="1.3" fill="#fff" stroke="#000" stroke-width="0.7"/>
<circle cx="538.1" cy="542.8" r="1.3" fill="#fff" stroke="#000" stroke-width="0.7"/>
<circle cx="538.1" cy="550.6" r="1.3" fill="#fff" stroke="#000" stroke-width="0.7"/>
<circle cx="535.6" cy="560.6" r="1.3" fill="#fff" stroke="#000" stroke-width="0.7"/>
<circle cx="540.9" cy="559.8" r="1.3" fill="#fff" stroke="#000" stroke-width="0.7"/>
<text transform="translate(481.8 651.7) rotate(-45) scale(1 1.06)" font-size="12.4" text-anchor="end">Control</text>
<text transform="translate(501.5 651.7) rotate(-45) scale(1 1.06)" font-size="12.4" text-anchor="end">Nicotine</text>
<text transform="translate(521.1 651.7) rotate(-45) scale(1 1.06)" font-size="12.4" text-anchor="end">Control</text>
<text transform="translate(540.9 651.7) rotate(-45) scale(1 1.06)" font-size="12.4" text-anchor="end">Nicotine</text>
</g>
<path d="M518.5 538.2V516.1H538.4V520.4" stroke="#111" stroke-width="1.05" fill="none"/>
<text transform="translate(528.4 517.42)" font-size="15" text-anchor="middle">*</text>
</svg></body></html>
